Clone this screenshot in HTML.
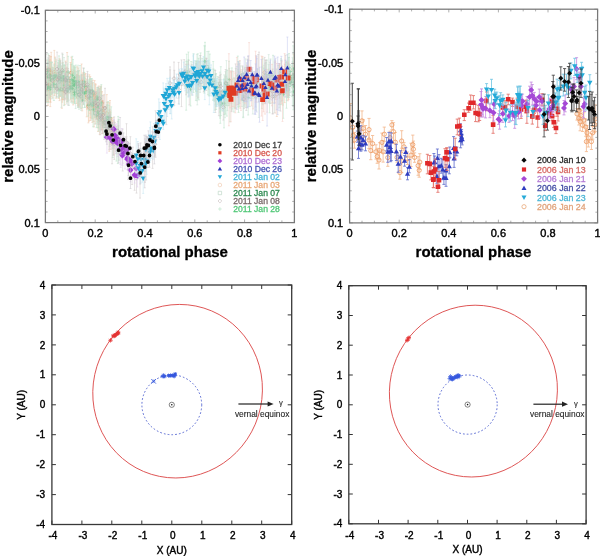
<!DOCTYPE html>
<html><head><meta charset="utf-8"><style>
html,body{margin:0;padding:0;background:#fff;}
svg{display:block;font-family:"Liberation Sans",sans-serif;filter:blur(0.35px);}
</style></head><body>
<svg width="600" height="556" viewBox="0 0 600 556">
<rect width="600" height="556" fill="#fff"/>
<defs><clipPath id="cTL"><rect x="45.4" y="10.3" width="249" height="212"/></clipPath><clipPath id="cTR"><rect x="349.6" y="9.2" width="248" height="213.7"/></clipPath></defs>
<g clip-path="url(#cTL)">
<path d="M77.1 66.8V86.1M76.1 66.8h2M76.1 86.1h2M86.7 79V116.8M85.7 79h2M85.7 116.8h2M51.7 62.2V94.4M50.7 62.2h2M50.7 94.4h2M48 76.5V101.5M47 76.5h2M47 101.5h2M56.2 75.4V98.3M55.2 75.4h2M55.2 98.3h2M62.2 73V102.2M61.2 73h2M61.2 102.2h2M81.9 75.8V94.9M80.9 75.8h2M80.9 94.9h2M64.7 76.3V104.7M63.7 76.3h2M63.7 104.7h2M67.4 68.6V100.1M66.4 68.6h2M66.4 100.1h2M73.4 75.6V98.3M72.4 75.6h2M72.4 98.3h2M45 64V103.7M44 64h2M44 103.7h2M73.2 73.7V104.9M72.2 73.7h2M72.2 104.9h2M51.2 52.3V87.8M50.2 52.3h2M50.2 87.8h2M62.5 66.6V94.1M61.5 66.6h2M61.5 94.1h2M84.7 74.2V101.1M83.7 74.2h2M83.7 101.1h2M90.7 89.1V117.5M89.7 89.1h2M89.7 117.5h2M113.9 124.4V144.4M112.9 124.4h2M112.9 144.4h2M73 81.5V98.7M72 81.5h2M72 98.7h2M60.1 62.6V96.3M59.1 62.6h2M59.1 96.3h2M50.2 71.3V102M49.2 71.3h2M49.2 102h2M71.4 57.1V89.3M70.4 57.1h2M70.4 89.3h2M106.5 105.1V139.8M105.5 105.1h2M105.5 139.8h2M62.7 62.5V99.9M61.7 62.5h2M61.7 99.9h2M112.5 128.1V145M111.5 128.1h2M111.5 145h2M47.7 69.8V94.2M46.7 69.8h2M46.7 94.2h2M103.5 102.7V124.4M102.5 102.7h2M102.5 124.4h2M49.9 59.7V99.2M48.9 59.7h2M48.9 99.2h2M64.9 74.8V94.8M63.9 74.8h2M63.9 94.8h2M76.6 76V103.5M75.6 76h2M75.6 103.5h2M54.3 50.4V91.5M53.3 50.4h2M53.3 91.5h2M94.1 90.6V109.9M93.1 90.6h2M93.1 109.9h2M109.6 119.9V125.9M108.6 119.9h2M108.6 125.9h2M79.2 75.5V94.9M78.2 75.5h2M78.2 94.9h2M83.8 85.9V95.6M82.8 85.9h2M82.8 95.6h2M101.3 104.8V129.6M100.3 104.8h2M100.3 129.6h2M106.8 94.6V130.5M105.8 94.6h2M105.8 130.5h2M89.4 74.7V105.8M88.4 74.7h2M88.4 105.8h2M90.4 94.6V120.5M89.4 94.6h2M89.4 120.5h2M97.2 89.1V110.5M96.2 89.1h2M96.2 110.5h2M98.3 101.3V127.7M97.3 101.3h2M97.3 127.7h2M94.6 80.6V107.7M93.6 80.6h2M93.6 107.7h2M45.8 60.4V92.2M44.8 60.4h2M44.8 92.2h2M109.3 112.2V131.8M108.3 112.2h2M108.3 131.8h2M92.3 83.5V122.4M91.3 83.5h2M91.3 122.4h2M107.5 102.4V131.8M106.5 102.4h2M106.5 131.8h2M80.2 86.9V101.3M79.2 86.9h2M79.2 101.3h2M64.7 68.5V98.8M63.7 68.5h2M63.7 98.8h2M74.4 71.1V91.1M73.4 71.1h2M73.4 91.1h2M114.7 122.5V148.9M113.7 122.5h2M113.7 148.9h2M47.9 70V86.3M46.9 70h2M46.9 86.3h2M46.4 69.9V101.5M45.4 69.9h2M45.4 101.5h2M61.9 66.8V95.1M60.9 66.8h2M60.9 95.1h2M89.7 83.8V99.6M88.7 83.8h2M88.7 99.6h2M59.2 65.8V89.8M58.2 65.8h2M58.2 89.8h2M95.7 91.8V123.9M94.7 91.8h2M94.7 123.9h2M82 74.8V92.6M81 74.8h2M81 92.6h2M109.3 116.8V151.4M108.3 116.8h2M108.3 151.4h2M77.2 71.4V84.8M76.2 71.4h2M76.2 84.8h2M107.4 123.1V130.9M106.4 123.1h2M106.4 130.9h2M59.5 72.1V84.4M58.5 72.1h2M58.5 84.4h2M60.1 82.3V96.4M59.1 82.3h2M59.1 96.4h2M101.1 86V123.9M100.1 86h2M100.1 123.9h2M50.9 56.5V87.7M49.9 56.5h2M49.9 87.7h2M47 66.8V90M46 66.8h2M46 90h2M68.8 73.1V93.4M67.8 73.1h2M67.8 93.4h2M96.4 100.9V118M95.4 100.9h2M95.4 118h2M112.4 120.3V148.1M111.4 120.3h2M111.4 148.1h2M96.7 91.2V111.3M95.7 91.2h2M95.7 111.3h2M67.1 52.5V89.7M66.1 52.5h2M66.1 89.7h2M105.4 113.6V136.6M104.4 113.6h2M104.4 136.6h2M83 73.1V98.9M82 73.1h2M82 98.9h2M81.6 64V98.8M80.6 64h2M80.6 98.8h2M94.1 94.7V126.9M93.1 94.7h2M93.1 126.9h2M110.6 112.8V144.7M109.6 112.8h2M109.6 144.7h2M102.9 110.6V129.2M101.9 110.6h2M101.9 129.2h2M88.9 86.1V109.2M87.9 86.1h2M87.9 109.2h2M58.8 64.2V98.3M57.8 64.2h2M57.8 98.3h2M89 89.6V121.1M88 89.6h2M88 121.1h2M62.8 65.5V99.5M61.8 65.5h2M61.8 99.5h2M74.4 70.3V94.6M73.4 70.3h2M73.4 94.6h2M90.3 76.4V101.7M89.3 76.4h2M89.3 101.7h2M61.5 73.1V85M60.5 73.1h2M60.5 85h2M67.4 70.9V98.4M66.4 70.9h2M66.4 98.4h2M54.5 63.8V95.5M53.5 63.8h2M53.5 95.5h2M104.1 94.7V124.3M103.1 94.7h2M103.1 124.3h2M93.7 91.8V121.5M92.7 91.8h2M92.7 121.5h2M113.8 120.9V154.9M112.8 120.9h2M112.8 154.9h2M93.7 91.1V115M92.7 91.1h2M92.7 115h2M84.2 74.3V96M83.2 74.3h2M83.2 96h2M59.5 85.8V91.2M58.5 85.8h2M58.5 91.2h2M49.4 72.2V96M48.4 72.2h2M48.4 96h2M78.2 68V91.2M77.2 68h2M77.2 91.2h2M94.8 95V117.6M93.8 95h2M93.8 117.6h2M73.8 70V97.7M72.8 70h2M72.8 97.7h2M108.4 119.4V134.9M107.4 119.4h2M107.4 134.9h2M73.7 66.8V90.4M72.7 66.8h2M72.7 90.4h2M63.3 77.8V99.1M62.3 77.8h2M62.3 99.1h2M73.8 84.7V102.2M72.8 84.7h2M72.8 102.2h2M99.3 88.2V117.4M98.3 88.2h2M98.3 117.4h2M78.3 78.1V106M77.3 78.1h2M77.3 106h2M61.5 77.7V99.6M60.5 77.7h2M60.5 99.6h2M85.4 73.5V101M84.4 73.5h2M84.4 101h2M94.8 103.3V107M93.8 103.3h2M93.8 107h2M97.5 92.7V121.7M96.5 92.7h2M96.5 121.7h2M71.7 69.3V101.5M70.7 69.3h2M70.7 101.5h2M81.1 81.7V108.6M80.1 81.7h2M80.1 108.6h2M102.5 103.8V133.6M101.5 103.8h2M101.5 133.6h2M111 118V149.3M110 118h2M110 149.3h2M88.4 90.3V122.9M87.4 90.3h2M87.4 122.9h2M87.4 76V108.3M86.4 76h2M86.4 108.3h2M65.1 72.2V88.8M64.1 72.2h2M64.1 88.8h2M48 66.9V105.4M47 66.9h2M47 105.4h2M98.1 98V131.5M97.1 98h2M97.1 131.5h2M109.3 102.8V134M108.3 102.8h2M108.3 134h2M82.2 87.9V110.9M81.2 87.9h2M81.2 110.9h2M103 100.7V124.7M102 100.7h2M102 124.7h2M59.5 74V100.6M58.5 74h2M58.5 100.6h2M92.4 82.5V110.2M91.4 82.5h2M91.4 110.2h2M100.2 88.3V111.8M99.2 88.3h2M99.2 111.8h2M61.9 68.9V108.3M60.9 68.9h2M60.9 108.3h2M70.5 62.5V100M69.5 62.5h2M69.5 100h2M90 88.7V110.4M89 88.7h2M89 110.4h2M110 118.5V139.7M109 118.5h2M109 139.7h2M75.2 71.4V93M74.2 71.4h2M74.2 93h2M51.1 67.4V84.3M50.1 67.4h2M50.1 84.3h2M79 70.4V107.4M78 70.4h2M78 107.4h2M50.3 67.8V106.6M49.3 67.8h2M49.3 106.6h2M60.1 60V89.9M59.1 60h2M59.1 89.9h2M91.4 91.6V118.6M90.4 91.6h2M90.4 118.6h2M110.4 111V140.2M109.4 111h2M109.4 140.2h2M50.6 70V102.2M49.6 70h2M49.6 102.2h2M66.2 71.5V93.8M65.2 71.5h2M65.2 93.8h2M50.8 56.8V93.1M49.8 56.8h2M49.8 93.1h2M55.1 57.1V89.4M54.1 57.1h2M54.1 89.4h2M95.4 83.7V105.3M94.4 83.7h2M94.4 105.3h2M76.1 78.1V96.6M75.1 78.1h2M75.1 96.6h2M111.4 122.5V143.6M110.4 122.5h2M110.4 143.6h2M70.8 64.6V94M69.8 64.6h2M69.8 94h2M101.6 91.5V112.5M100.6 91.5h2M100.6 112.5h2M98.9 103.2V122.8M97.9 103.2h2M97.9 122.8h2M83.6 72.5V91.5M82.6 72.5h2M82.6 91.5h2M49.5 60.9V79.2M48.5 60.9h2M48.5 79.2h2M97.3 96V119M96.3 96h2M96.3 119h2M98 95.7V116.8M97 95.7h2M97 116.8h2M82 82.1V101.2M81 82.1h2M81 101.2h2M92.7 80.1V108.8M91.7 80.1h2M91.7 108.8h2M110 100.5V138M109 100.5h2M109 138h2M102.2 112.9V125.8M101.2 112.9h2M101.2 125.8h2M82.2 81.9V93.6M81.2 81.9h2M81.2 93.6h2M55.4 76.9V80.5M54.4 76.9h2M54.4 80.5h2M59.5 58.7V87.8M58.5 58.7h2M58.5 87.8h2M66.9 68.7V102M65.9 68.7h2M65.9 102h2M49.4 55.5V83.9M48.4 55.5h2M48.4 83.9h2M52.7 67.1V98M51.7 67.1h2M51.7 98h2M87.2 81.6V109.3M86.2 81.6h2M86.2 109.3h2M98.8 86V123.4M97.8 86h2M97.8 123.4h2M63.5 83.2V97.3M62.5 83.2h2M62.5 97.3h2M112.9 117.7V144.3M111.9 117.7h2M111.9 144.3h2M101.9 91.9V123M100.9 91.9h2M100.9 123h2M115.3 125.7V144.6M114.3 125.7h2M114.3 144.6h2M71.4 78.1V91.3M70.4 78.1h2M70.4 91.3h2M56.1 59.8V93.8M55.1 59.8h2M55.1 93.8h2M90.2 89.6V113.7M89.2 89.6h2M89.2 113.7h2M99.7 104.7V134.3M98.7 104.7h2M98.7 134.3h2M50.9 63V96.4M49.9 63h2M49.9 96.4h2M78.3 80.8V104.6M77.3 80.8h2M77.3 104.6h2M101 87.3V121.6M100 87.3h2M100 121.6h2M59.8 63.4V86.8M58.8 63.4h2M58.8 86.8h2M67.1 67.3V94.9M66.1 67.3h2M66.1 94.9h2M95.8 84.7V116.6M94.8 84.7h2M94.8 116.6h2M77.8 84.4V105.8M76.8 84.4h2M76.8 105.8h2M71.8 71.7V92M70.8 71.7h2M70.8 92h2M45.7 77.8V102.1M44.7 77.8h2M44.7 102.1h2M65.6 61.1V91.7M64.6 61.1h2M64.6 91.7h2M72.8 72.5V92.9M71.8 72.5h2M71.8 92.9h2M272.5 77.9V102.7M271.5 77.9h2M271.5 102.7h2M288.5 70.6V99.6M287.5 70.6h2M287.5 99.6h2M284.7 64.2V102.6M283.7 64.2h2M283.7 102.6h2M264.9 71.7V101.2M263.9 71.7h2M263.9 101.2h2M264.3 78.6V103.3M263.3 78.6h2M263.3 103.3h2M286.5 74V93.8M285.5 74h2M285.5 93.8h2M262.5 56.6V97.3M261.5 56.6h2M261.5 97.3h2M283.1 68.6V93.9M282.1 68.6h2M282.1 93.9h2M282.8 70.3V105.1M281.8 70.3h2M281.8 105.1h2M288.4 64.1V92.4M287.4 64.1h2M287.4 92.4h2M279.5 63.6V98.1M278.5 63.6h2M278.5 98.1h2M293.6 54.5V81.4M292.6 54.5h2M292.6 81.4h2M292.2 66.6V87.6M291.2 66.6h2M291.2 87.6h2M280.4 68.7V91.2M279.4 68.7h2M279.4 91.2h2M276.8 77.8V116.5M275.8 77.8h2M275.8 116.5h2M279.4 65V90M278.4 65h2M278.4 90h2" stroke="#f0c9ae" stroke-width="0.55" fill="none" opacity="1.0"/>
<path d="M75.4 76.4a1.7 1.7 0 1 0 3.4 0a1.7 1.7 0 1 0 -3.4 0M85 97.3a1.7 1.7 0 1 0 3.4 0a1.7 1.7 0 1 0 -3.4 0M50 78.7a1.7 1.7 0 1 0 3.4 0a1.7 1.7 0 1 0 -3.4 0M46.3 89.1a1.7 1.7 0 1 0 3.4 0a1.7 1.7 0 1 0 -3.4 0M54.5 86.5a1.7 1.7 0 1 0 3.4 0a1.7 1.7 0 1 0 -3.4 0M60.5 86.5a1.7 1.7 0 1 0 3.4 0a1.7 1.7 0 1 0 -3.4 0M80.2 85.7a1.7 1.7 0 1 0 3.4 0a1.7 1.7 0 1 0 -3.4 0M63 90.8a1.7 1.7 0 1 0 3.4 0a1.7 1.7 0 1 0 -3.4 0M65.7 82.1a1.7 1.7 0 1 0 3.4 0a1.7 1.7 0 1 0 -3.4 0M71.7 87.2a1.7 1.7 0 1 0 3.4 0a1.7 1.7 0 1 0 -3.4 0M43.3 82a1.7 1.7 0 1 0 3.4 0a1.7 1.7 0 1 0 -3.4 0M71.5 90.9a1.7 1.7 0 1 0 3.4 0a1.7 1.7 0 1 0 -3.4 0M49.5 72.4a1.7 1.7 0 1 0 3.4 0a1.7 1.7 0 1 0 -3.4 0M60.8 82.1a1.7 1.7 0 1 0 3.4 0a1.7 1.7 0 1 0 -3.4 0M83 89.3a1.7 1.7 0 1 0 3.4 0a1.7 1.7 0 1 0 -3.4 0M89 103.1a1.7 1.7 0 1 0 3.4 0a1.7 1.7 0 1 0 -3.4 0M112.2 135.7a1.7 1.7 0 1 0 3.4 0a1.7 1.7 0 1 0 -3.4 0M71.3 88.6a1.7 1.7 0 1 0 3.4 0a1.7 1.7 0 1 0 -3.4 0M58.4 79.5a1.7 1.7 0 1 0 3.4 0a1.7 1.7 0 1 0 -3.4 0M48.5 85.5a1.7 1.7 0 1 0 3.4 0a1.7 1.7 0 1 0 -3.4 0M69.7 72.9a1.7 1.7 0 1 0 3.4 0a1.7 1.7 0 1 0 -3.4 0M104.8 122.7a1.7 1.7 0 1 0 3.4 0a1.7 1.7 0 1 0 -3.4 0M61 83.9a1.7 1.7 0 1 0 3.4 0a1.7 1.7 0 1 0 -3.4 0M110.8 137.2a1.7 1.7 0 1 0 3.4 0a1.7 1.7 0 1 0 -3.4 0M46 83.1a1.7 1.7 0 1 0 3.4 0a1.7 1.7 0 1 0 -3.4 0M101.8 112.3a1.7 1.7 0 1 0 3.4 0a1.7 1.7 0 1 0 -3.4 0M48.2 80.3a1.7 1.7 0 1 0 3.4 0a1.7 1.7 0 1 0 -3.4 0M63.2 84.2a1.7 1.7 0 1 0 3.4 0a1.7 1.7 0 1 0 -3.4 0M74.9 89.2a1.7 1.7 0 1 0 3.4 0a1.7 1.7 0 1 0 -3.4 0M52.6 72.1a1.7 1.7 0 1 0 3.4 0a1.7 1.7 0 1 0 -3.4 0M92.4 100.3a1.7 1.7 0 1 0 3.4 0a1.7 1.7 0 1 0 -3.4 0M107.9 122.5a1.7 1.7 0 1 0 3.4 0a1.7 1.7 0 1 0 -3.4 0M77.5 87a1.7 1.7 0 1 0 3.4 0a1.7 1.7 0 1 0 -3.4 0M82.1 90.8a1.7 1.7 0 1 0 3.4 0a1.7 1.7 0 1 0 -3.4 0M99.6 116.7a1.7 1.7 0 1 0 3.4 0a1.7 1.7 0 1 0 -3.4 0M105.1 113.5a1.7 1.7 0 1 0 3.4 0a1.7 1.7 0 1 0 -3.4 0M87.7 92a1.7 1.7 0 1 0 3.4 0a1.7 1.7 0 1 0 -3.4 0M88.7 108.4a1.7 1.7 0 1 0 3.4 0a1.7 1.7 0 1 0 -3.4 0M95.5 101.4a1.7 1.7 0 1 0 3.4 0a1.7 1.7 0 1 0 -3.4 0M96.6 115.2a1.7 1.7 0 1 0 3.4 0a1.7 1.7 0 1 0 -3.4 0M92.9 95.9a1.7 1.7 0 1 0 3.4 0a1.7 1.7 0 1 0 -3.4 0M44.1 76.4a1.7 1.7 0 1 0 3.4 0a1.7 1.7 0 1 0 -3.4 0M107.6 123.1a1.7 1.7 0 1 0 3.4 0a1.7 1.7 0 1 0 -3.4 0M90.6 102.6a1.7 1.7 0 1 0 3.4 0a1.7 1.7 0 1 0 -3.4 0M105.8 117.7a1.7 1.7 0 1 0 3.4 0a1.7 1.7 0 1 0 -3.4 0M78.5 93.8a1.7 1.7 0 1 0 3.4 0a1.7 1.7 0 1 0 -3.4 0M63 83.9a1.7 1.7 0 1 0 3.4 0a1.7 1.7 0 1 0 -3.4 0M72.7 80.1a1.7 1.7 0 1 0 3.4 0a1.7 1.7 0 1 0 -3.4 0M113 133.5a1.7 1.7 0 1 0 3.4 0a1.7 1.7 0 1 0 -3.4 0M46.2 77.4a1.7 1.7 0 1 0 3.4 0a1.7 1.7 0 1 0 -3.4 0M44.7 83.1a1.7 1.7 0 1 0 3.4 0a1.7 1.7 0 1 0 -3.4 0M60.2 81.5a1.7 1.7 0 1 0 3.4 0a1.7 1.7 0 1 0 -3.4 0M88 92.1a1.7 1.7 0 1 0 3.4 0a1.7 1.7 0 1 0 -3.4 0M57.5 76.5a1.7 1.7 0 1 0 3.4 0a1.7 1.7 0 1 0 -3.4 0M94 106.7a1.7 1.7 0 1 0 3.4 0a1.7 1.7 0 1 0 -3.4 0M80.3 83a1.7 1.7 0 1 0 3.4 0a1.7 1.7 0 1 0 -3.4 0M107.6 136.2a1.7 1.7 0 1 0 3.4 0a1.7 1.7 0 1 0 -3.4 0M75.5 77.8a1.7 1.7 0 1 0 3.4 0a1.7 1.7 0 1 0 -3.4 0M105.7 126.8a1.7 1.7 0 1 0 3.4 0a1.7 1.7 0 1 0 -3.4 0M57.8 78.2a1.7 1.7 0 1 0 3.4 0a1.7 1.7 0 1 0 -3.4 0M58.4 89.9a1.7 1.7 0 1 0 3.4 0a1.7 1.7 0 1 0 -3.4 0M99.4 106.8a1.7 1.7 0 1 0 3.4 0a1.7 1.7 0 1 0 -3.4 0M49.2 72.9a1.7 1.7 0 1 0 3.4 0a1.7 1.7 0 1 0 -3.4 0M45.3 79.9a1.7 1.7 0 1 0 3.4 0a1.7 1.7 0 1 0 -3.4 0M67.1 82.5a1.7 1.7 0 1 0 3.4 0a1.7 1.7 0 1 0 -3.4 0M94.7 110.2a1.7 1.7 0 1 0 3.4 0a1.7 1.7 0 1 0 -3.4 0M110.7 134.9a1.7 1.7 0 1 0 3.4 0a1.7 1.7 0 1 0 -3.4 0M95 101.8a1.7 1.7 0 1 0 3.4 0a1.7 1.7 0 1 0 -3.4 0M65.4 73.6a1.7 1.7 0 1 0 3.4 0a1.7 1.7 0 1 0 -3.4 0M103.7 126a1.7 1.7 0 1 0 3.4 0a1.7 1.7 0 1 0 -3.4 0M81.3 83.6a1.7 1.7 0 1 0 3.4 0a1.7 1.7 0 1 0 -3.4 0M79.9 81.6a1.7 1.7 0 1 0 3.4 0a1.7 1.7 0 1 0 -3.4 0M92.4 109.1a1.7 1.7 0 1 0 3.4 0a1.7 1.7 0 1 0 -3.4 0M108.9 127.6a1.7 1.7 0 1 0 3.4 0a1.7 1.7 0 1 0 -3.4 0M101.2 120.2a1.7 1.7 0 1 0 3.4 0a1.7 1.7 0 1 0 -3.4 0M87.2 99.5a1.7 1.7 0 1 0 3.4 0a1.7 1.7 0 1 0 -3.4 0M57.1 81.1a1.7 1.7 0 1 0 3.4 0a1.7 1.7 0 1 0 -3.4 0M87.3 104a1.7 1.7 0 1 0 3.4 0a1.7 1.7 0 1 0 -3.4 0M61.1 82.7a1.7 1.7 0 1 0 3.4 0a1.7 1.7 0 1 0 -3.4 0M72.7 81.4a1.7 1.7 0 1 0 3.4 0a1.7 1.7 0 1 0 -3.4 0M88.6 88.5a1.7 1.7 0 1 0 3.4 0a1.7 1.7 0 1 0 -3.4 0M59.8 79.7a1.7 1.7 0 1 0 3.4 0a1.7 1.7 0 1 0 -3.4 0M65.7 84.9a1.7 1.7 0 1 0 3.4 0a1.7 1.7 0 1 0 -3.4 0M52.8 80.2a1.7 1.7 0 1 0 3.4 0a1.7 1.7 0 1 0 -3.4 0M102.4 108.6a1.7 1.7 0 1 0 3.4 0a1.7 1.7 0 1 0 -3.4 0M92 106a1.7 1.7 0 1 0 3.4 0a1.7 1.7 0 1 0 -3.4 0M112.1 138.8a1.7 1.7 0 1 0 3.4 0a1.7 1.7 0 1 0 -3.4 0M92 103.2a1.7 1.7 0 1 0 3.4 0a1.7 1.7 0 1 0 -3.4 0M82.5 85.1a1.7 1.7 0 1 0 3.4 0a1.7 1.7 0 1 0 -3.4 0M57.8 89a1.7 1.7 0 1 0 3.4 0a1.7 1.7 0 1 0 -3.4 0M47.7 85.1a1.7 1.7 0 1 0 3.4 0a1.7 1.7 0 1 0 -3.4 0M76.5 81.1a1.7 1.7 0 1 0 3.4 0a1.7 1.7 0 1 0 -3.4 0M93.1 105.7a1.7 1.7 0 1 0 3.4 0a1.7 1.7 0 1 0 -3.4 0M72.1 85.4a1.7 1.7 0 1 0 3.4 0a1.7 1.7 0 1 0 -3.4 0M106.7 127.5a1.7 1.7 0 1 0 3.4 0a1.7 1.7 0 1 0 -3.4 0M72 79a1.7 1.7 0 1 0 3.4 0a1.7 1.7 0 1 0 -3.4 0M61.6 88.4a1.7 1.7 0 1 0 3.4 0a1.7 1.7 0 1 0 -3.4 0M72.1 93.3a1.7 1.7 0 1 0 3.4 0a1.7 1.7 0 1 0 -3.4 0M97.6 101.9a1.7 1.7 0 1 0 3.4 0a1.7 1.7 0 1 0 -3.4 0M76.6 92.1a1.7 1.7 0 1 0 3.4 0a1.7 1.7 0 1 0 -3.4 0M59.8 88a1.7 1.7 0 1 0 3.4 0a1.7 1.7 0 1 0 -3.4 0M83.7 88.1a1.7 1.7 0 1 0 3.4 0a1.7 1.7 0 1 0 -3.4 0M93.1 104.9a1.7 1.7 0 1 0 3.4 0a1.7 1.7 0 1 0 -3.4 0M95.8 106.7a1.7 1.7 0 1 0 3.4 0a1.7 1.7 0 1 0 -3.4 0M70 86.4a1.7 1.7 0 1 0 3.4 0a1.7 1.7 0 1 0 -3.4 0M79.4 96a1.7 1.7 0 1 0 3.4 0a1.7 1.7 0 1 0 -3.4 0M100.8 120.9a1.7 1.7 0 1 0 3.4 0a1.7 1.7 0 1 0 -3.4 0M109.3 132.5a1.7 1.7 0 1 0 3.4 0a1.7 1.7 0 1 0 -3.4 0M86.7 106.3a1.7 1.7 0 1 0 3.4 0a1.7 1.7 0 1 0 -3.4 0M85.7 92.4a1.7 1.7 0 1 0 3.4 0a1.7 1.7 0 1 0 -3.4 0M63.4 80.1a1.7 1.7 0 1 0 3.4 0a1.7 1.7 0 1 0 -3.4 0M46.3 84.3a1.7 1.7 0 1 0 3.4 0a1.7 1.7 0 1 0 -3.4 0M96.4 117.7a1.7 1.7 0 1 0 3.4 0a1.7 1.7 0 1 0 -3.4 0M107.6 120.6a1.7 1.7 0 1 0 3.4 0a1.7 1.7 0 1 0 -3.4 0M80.5 98.3a1.7 1.7 0 1 0 3.4 0a1.7 1.7 0 1 0 -3.4 0M101.3 113.1a1.7 1.7 0 1 0 3.4 0a1.7 1.7 0 1 0 -3.4 0M57.8 86.3a1.7 1.7 0 1 0 3.4 0a1.7 1.7 0 1 0 -3.4 0M90.7 96.8a1.7 1.7 0 1 0 3.4 0a1.7 1.7 0 1 0 -3.4 0M98.5 100.5a1.7 1.7 0 1 0 3.4 0a1.7 1.7 0 1 0 -3.4 0M60.2 89.2a1.7 1.7 0 1 0 3.4 0a1.7 1.7 0 1 0 -3.4 0M68.8 81.2a1.7 1.7 0 1 0 3.4 0a1.7 1.7 0 1 0 -3.4 0M88.3 98a1.7 1.7 0 1 0 3.4 0a1.7 1.7 0 1 0 -3.4 0M108.3 128.6a1.7 1.7 0 1 0 3.4 0a1.7 1.7 0 1 0 -3.4 0M73.5 83.3a1.7 1.7 0 1 0 3.4 0a1.7 1.7 0 1 0 -3.4 0M49.4 76.3a1.7 1.7 0 1 0 3.4 0a1.7 1.7 0 1 0 -3.4 0M77.3 88.6a1.7 1.7 0 1 0 3.4 0a1.7 1.7 0 1 0 -3.4 0M48.6 86.7a1.7 1.7 0 1 0 3.4 0a1.7 1.7 0 1 0 -3.4 0M58.4 76.2a1.7 1.7 0 1 0 3.4 0a1.7 1.7 0 1 0 -3.4 0M89.7 104.6a1.7 1.7 0 1 0 3.4 0a1.7 1.7 0 1 0 -3.4 0M108.7 123.3a1.7 1.7 0 1 0 3.4 0a1.7 1.7 0 1 0 -3.4 0M48.9 85.5a1.7 1.7 0 1 0 3.4 0a1.7 1.7 0 1 0 -3.4 0M64.5 81.6a1.7 1.7 0 1 0 3.4 0a1.7 1.7 0 1 0 -3.4 0M49.1 76.5a1.7 1.7 0 1 0 3.4 0a1.7 1.7 0 1 0 -3.4 0M53.4 74.1a1.7 1.7 0 1 0 3.4 0a1.7 1.7 0 1 0 -3.4 0M93.7 94.5a1.7 1.7 0 1 0 3.4 0a1.7 1.7 0 1 0 -3.4 0M74.4 87.2a1.7 1.7 0 1 0 3.4 0a1.7 1.7 0 1 0 -3.4 0M109.7 133a1.7 1.7 0 1 0 3.4 0a1.7 1.7 0 1 0 -3.4 0M69.1 78.2a1.7 1.7 0 1 0 3.4 0a1.7 1.7 0 1 0 -3.4 0M99.9 102.9a1.7 1.7 0 1 0 3.4 0a1.7 1.7 0 1 0 -3.4 0M97.2 111.9a1.7 1.7 0 1 0 3.4 0a1.7 1.7 0 1 0 -3.4 0M81.9 81.7a1.7 1.7 0 1 0 3.4 0a1.7 1.7 0 1 0 -3.4 0M47.8 70a1.7 1.7 0 1 0 3.4 0a1.7 1.7 0 1 0 -3.4 0M95.6 108.7a1.7 1.7 0 1 0 3.4 0a1.7 1.7 0 1 0 -3.4 0M96.3 105.1a1.7 1.7 0 1 0 3.4 0a1.7 1.7 0 1 0 -3.4 0M80.3 90.5a1.7 1.7 0 1 0 3.4 0a1.7 1.7 0 1 0 -3.4 0M91 94.5a1.7 1.7 0 1 0 3.4 0a1.7 1.7 0 1 0 -3.4 0M108.3 118.7a1.7 1.7 0 1 0 3.4 0a1.7 1.7 0 1 0 -3.4 0M100.5 119.7a1.7 1.7 0 1 0 3.4 0a1.7 1.7 0 1 0 -3.4 0M80.5 87.7a1.7 1.7 0 1 0 3.4 0a1.7 1.7 0 1 0 -3.4 0M53.7 78.8a1.7 1.7 0 1 0 3.4 0a1.7 1.7 0 1 0 -3.4 0M57.8 75.9a1.7 1.7 0 1 0 3.4 0a1.7 1.7 0 1 0 -3.4 0M65.2 87.3a1.7 1.7 0 1 0 3.4 0a1.7 1.7 0 1 0 -3.4 0M47.7 72.3a1.7 1.7 0 1 0 3.4 0a1.7 1.7 0 1 0 -3.4 0M51 81.1a1.7 1.7 0 1 0 3.4 0a1.7 1.7 0 1 0 -3.4 0M85.5 95.8a1.7 1.7 0 1 0 3.4 0a1.7 1.7 0 1 0 -3.4 0M97.1 105.9a1.7 1.7 0 1 0 3.4 0a1.7 1.7 0 1 0 -3.4 0M61.8 90a1.7 1.7 0 1 0 3.4 0a1.7 1.7 0 1 0 -3.4 0M111.2 128.6a1.7 1.7 0 1 0 3.4 0a1.7 1.7 0 1 0 -3.4 0M100.2 108.3a1.7 1.7 0 1 0 3.4 0a1.7 1.7 0 1 0 -3.4 0M113.6 134.2a1.7 1.7 0 1 0 3.4 0a1.7 1.7 0 1 0 -3.4 0M69.7 85.3a1.7 1.7 0 1 0 3.4 0a1.7 1.7 0 1 0 -3.4 0M54.4 77.9a1.7 1.7 0 1 0 3.4 0a1.7 1.7 0 1 0 -3.4 0M88.5 102.6a1.7 1.7 0 1 0 3.4 0a1.7 1.7 0 1 0 -3.4 0M98 119.5a1.7 1.7 0 1 0 3.4 0a1.7 1.7 0 1 0 -3.4 0M49.2 78.3a1.7 1.7 0 1 0 3.4 0a1.7 1.7 0 1 0 -3.4 0M76.6 94a1.7 1.7 0 1 0 3.4 0a1.7 1.7 0 1 0 -3.4 0M99.3 101.9a1.7 1.7 0 1 0 3.4 0a1.7 1.7 0 1 0 -3.4 0M58.1 73.5a1.7 1.7 0 1 0 3.4 0a1.7 1.7 0 1 0 -3.4 0M65.4 80.6a1.7 1.7 0 1 0 3.4 0a1.7 1.7 0 1 0 -3.4 0M94.1 99.6a1.7 1.7 0 1 0 3.4 0a1.7 1.7 0 1 0 -3.4 0M76.1 96.6a1.7 1.7 0 1 0 3.4 0a1.7 1.7 0 1 0 -3.4 0M70.1 82.1a1.7 1.7 0 1 0 3.4 0a1.7 1.7 0 1 0 -3.4 0M44 88.9a1.7 1.7 0 1 0 3.4 0a1.7 1.7 0 1 0 -3.4 0M63.9 76.2a1.7 1.7 0 1 0 3.4 0a1.7 1.7 0 1 0 -3.4 0M71.1 81.6a1.7 1.7 0 1 0 3.4 0a1.7 1.7 0 1 0 -3.4 0M270.8 91.3a1.7 1.7 0 1 0 3.4 0a1.7 1.7 0 1 0 -3.4 0M286.8 83.3a1.7 1.7 0 1 0 3.4 0a1.7 1.7 0 1 0 -3.4 0M283 84.3a1.7 1.7 0 1 0 3.4 0a1.7 1.7 0 1 0 -3.4 0M263.2 85.5a1.7 1.7 0 1 0 3.4 0a1.7 1.7 0 1 0 -3.4 0M262.6 90.6a1.7 1.7 0 1 0 3.4 0a1.7 1.7 0 1 0 -3.4 0M284.8 83.7a1.7 1.7 0 1 0 3.4 0a1.7 1.7 0 1 0 -3.4 0M260.8 77.6a1.7 1.7 0 1 0 3.4 0a1.7 1.7 0 1 0 -3.4 0M281.4 81.2a1.7 1.7 0 1 0 3.4 0a1.7 1.7 0 1 0 -3.4 0M281.1 86.8a1.7 1.7 0 1 0 3.4 0a1.7 1.7 0 1 0 -3.4 0M286.7 77.9a1.7 1.7 0 1 0 3.4 0a1.7 1.7 0 1 0 -3.4 0M277.8 78.8a1.7 1.7 0 1 0 3.4 0a1.7 1.7 0 1 0 -3.4 0M291.9 69.7a1.7 1.7 0 1 0 3.4 0a1.7 1.7 0 1 0 -3.4 0M290.5 76.7a1.7 1.7 0 1 0 3.4 0a1.7 1.7 0 1 0 -3.4 0M278.7 81.1a1.7 1.7 0 1 0 3.4 0a1.7 1.7 0 1 0 -3.4 0M275.1 94.2a1.7 1.7 0 1 0 3.4 0a1.7 1.7 0 1 0 -3.4 0M277.7 75.9a1.7 1.7 0 1 0 3.4 0a1.7 1.7 0 1 0 -3.4 0" stroke="#e2a074" stroke-width="0.7" fill="none" opacity="1.0"/>
<path d="M119.4 137.9V153.8M118.4 137.9h2M118.4 153.8h2M66.6 73V97.3M65.6 73h2M65.6 97.3h2M58.9 67.7V88.8M57.9 67.7h2M57.9 88.8h2M119 138.7V160.2M118 138.7h2M118 160.2h2M100.3 86.5V118.6M99.3 86.5h2M99.3 118.6h2M60 64.2V90.8M59 64.2h2M59 90.8h2M58 62.6V87.4M57 62.6h2M57 87.4h2M93.1 97.4V126.8M92.1 97.4h2M92.1 126.8h2M90 78V107.3M89 78h2M89 107.3h2M101.9 103.3V122.8M100.9 103.3h2M100.9 122.8h2M109.1 105.3V138.8M108.1 105.3h2M108.1 138.8h2M84.4 72.3V98.1M83.4 72.3h2M83.4 98.1h2M49.1 72.5V82.2M48.1 72.5h2M48.1 82.2h2M101.4 95V125.3M100.4 95h2M100.4 125.3h2M78.5 71V95.5M77.5 71h2M77.5 95.5h2M84.5 77.1V107.5M83.5 77.1h2M83.5 107.5h2M50.1 81.3V97.8M49.1 81.3h2M49.1 97.8h2M76.6 75.9V97.9M75.6 75.9h2M75.6 97.9h2M112.8 125.6V157.5M111.8 125.6h2M111.8 157.5h2M116.3 129.8V153.9M115.3 129.8h2M115.3 153.9h2M49.7 79.2V95.3M48.7 79.2h2M48.7 95.3h2M88.9 82.8V110.5M87.9 82.8h2M87.9 110.5h2M82.4 91.8V107.8M81.4 91.8h2M81.4 107.8h2M67.2 83.4V101.6M66.2 83.4h2M66.2 101.6h2M71.6 64.1V95.7M70.6 64.1h2M70.6 95.7h2M60.2 64.9V86.7M59.2 64.9h2M59.2 86.7h2M53 67.7V89.8M52 67.7h2M52 89.8h2M98.5 93.1V131M97.5 93.1h2M97.5 131h2M50.9 62.4V94.6M49.9 62.4h2M49.9 94.6h2M58.6 60.3V97.9M57.6 60.3h2M57.6 97.9h2M94.7 100.6V117.8M93.7 100.6h2M93.7 117.8h2M114.5 122.2V141.5M113.5 122.2h2M113.5 141.5h2M118.7 119.5V146.6M117.7 119.5h2M117.7 146.6h2M90 79.2V110.4M89 79.2h2M89 110.4h2M66.4 72.3V91.6M65.4 72.3h2M65.4 91.6h2M59 85.1V95.6M58 85.1h2M58 95.6h2M101.3 84.6V118.7M100.3 84.6h2M100.3 118.7h2M86.7 80.9V102.7M85.7 80.9h2M85.7 102.7h2M83.8 68.2V94.7M82.8 68.2h2M82.8 94.7h2M116.4 126.4V161.1M115.4 126.4h2M115.4 161.1h2M62.7 54.4V89M61.7 54.4h2M61.7 89h2M62.7 63V89.8M61.7 63h2M61.7 89.8h2M47.7 62.4V82.8M46.7 62.4h2M46.7 82.8h2M58.5 66.9V93.8M57.5 66.9h2M57.5 93.8h2M78.1 71V107.2M77.1 71h2M77.1 107.2h2M87.7 76.3V95.8M86.7 76.3h2M86.7 95.8h2M68.3 71.7V100.3M67.3 71.7h2M67.3 100.3h2M64.9 65.3V89.5M63.9 65.3h2M63.9 89.5h2M64.1 64.8V105.6M63.1 64.8h2M63.1 105.6h2M49.6 61.6V92.7M48.6 61.6h2M48.6 92.7h2M48.2 53.9V81.5M47.2 53.9h2M47.2 81.5h2M79.1 76.8V101.2M78.1 76.8h2M78.1 101.2h2M55.6 61.4V88.6M54.6 61.4h2M54.6 88.6h2M47.6 74.5V100M46.6 74.5h2M46.6 100h2M64 65.1V91.1M63 65.1h2M63 91.1h2M72.3 56.3V90.2M71.3 56.3h2M71.3 90.2h2M75.2 72.9V96.8M74.2 72.9h2M74.2 96.8h2M109.8 109.1V125.6M108.8 109.1h2M108.8 125.6h2M108.2 101.6V134M107.2 101.6h2M107.2 134h2M58.8 66V87.7M57.8 66h2M57.8 87.7h2M80.1 65.5V104.2M79.1 65.5h2M79.1 104.2h2M109.7 114.5V146.5M108.7 114.5h2M108.7 146.5h2M72.2 71.1V95.6M71.2 71.1h2M71.2 95.6h2M74.5 83.3V101.9M73.5 83.3h2M73.5 101.9h2M56.5 71.8V97.1M55.5 71.8h2M55.5 97.1h2M113 124.6V148.6M112 124.6h2M112 148.6h2M111.2 106.8V140.1M110.2 106.8h2M110.2 140.1h2M74.5 72.7V99.5M73.5 72.7h2M73.5 99.5h2M47.4 59.8V91.4M46.4 59.8h2M46.4 91.4h2M98 87.6V122.6M97 87.6h2M97 122.6h2M60.4 60.9V95.8M59.4 60.9h2M59.4 95.8h2M109.9 112.7V142.5M108.9 112.7h2M108.9 142.5h2M48.1 72.6V102.5M47.1 72.6h2M47.1 102.5h2M118.2 116.4V153.8M117.2 116.4h2M117.2 153.8h2M96.7 94.2V103.1M95.7 94.2h2M95.7 103.1h2M92.4 91.2V118.4M91.4 91.2h2M91.4 118.4h2M73.8 65.6V96M72.8 65.6h2M72.8 96h2M75.2 67.6V93.8M74.2 67.6h2M74.2 93.8h2M52 62.1V93.4M51 62.1h2M51 93.4h2M97.6 90.2V109.5M96.6 90.2h2M96.6 109.5h2M72.3 76.6V103.1M71.3 76.6h2M71.3 103.1h2M88.9 79.8V103.2M87.9 79.8h2M87.9 103.2h2M71 79.3V98.5M70 79.3h2M70 98.5h2M59 55.9V85.8M58 55.9h2M58 85.8h2M88.2 93.9V116.1M87.2 93.9h2M87.2 116.1h2M75.8 65.1V98.5M74.8 65.1h2M74.8 98.5h2M73.6 74.9V97.9M72.6 74.9h2M72.6 97.9h2M68.1 56.3V87.9M67.1 56.3h2M67.1 87.9h2M62.1 70.4V89.3M61.1 70.4h2M61.1 89.3h2M74.5 66.4V103.2M73.5 66.4h2M73.5 103.2h2M91.8 78.5V100.1M90.8 78.5h2M90.8 100.1h2M71 74.5V97.8M70 74.5h2M70 97.8h2M96.5 105.9V127.6M95.5 105.9h2M95.5 127.6h2M81.8 74.4V97.6M80.8 74.4h2M80.8 97.6h2M85 78.5V107.3M84 78.5h2M84 107.3h2M83.5 81.3V104.7M82.5 81.3h2M82.5 104.7h2M97.9 94.4V127.7M96.9 94.4h2M96.9 127.7h2M57.2 81.5V93.5M56.2 81.5h2M56.2 93.5h2M83.1 82.7V100.9M82.1 82.7h2M82.1 100.9h2M98.7 88.2V124.5M97.7 88.2h2M97.7 124.5h2M107.1 105V129.1M106.1 105h2M106.1 129.1h2M107.3 113.2V135.5M106.3 113.2h2M106.3 135.5h2M62.3 66.8V96.8M61.3 66.8h2M61.3 96.8h2M117.8 128.2V163.6M116.8 128.2h2M116.8 163.6h2M74.8 88.1V103.6M73.8 88.1h2M73.8 103.6h2M53.9 68.8V100.5M52.9 68.8h2M52.9 100.5h2M54 64.9V92.7M53 64.9h2M53 92.7h2M73 59.5V96.8M72 59.5h2M72 96.8h2M74.4 67.7V85.7M73.4 67.7h2M73.4 85.7h2M97.1 87.6V106.5M96.1 87.6h2M96.1 106.5h2M196.7 65.1V91.7M195.7 65.1h2M195.7 91.7h2M220.3 91.3V123.3M219.3 91.3h2M219.3 123.3h2M214.9 70V110.1M213.9 70h2M213.9 110.1h2M190.6 70.6V106M189.6 70.6h2M189.6 106h2M204.9 45.9V81.9M203.9 45.9h2M203.9 81.9h2M237.8 56.1V92.9M236.8 56.1h2M236.8 92.9h2M245 71.7V92.9M244 71.7h2M244 92.9h2M279.2 72.8V107.9M278.2 72.8h2M278.2 107.9h2M204.2 63.9V91.6M203.2 63.9h2M203.2 91.6h2M224.1 83.9V105.1M223.1 83.9h2M223.1 105.1h2M207.9 61V94.7M206.9 61h2M206.9 94.7h2M271.4 71.2V95.9M270.4 71.2h2M270.4 95.9h2M268.7 69.1V102.9M267.7 69.1h2M267.7 102.9h2M261.9 66.9V108.4M260.9 66.9h2M260.9 108.4h2M209.8 54.1V95.9M208.8 54.1h2M208.8 95.9h2M224.8 79.2V105M223.8 79.2h2M223.8 105h2M220.1 81.5V118.2M219.1 81.5h2M219.1 118.2h2M266 62.7V86.4M265 62.7h2M265 86.4h2M200.6 52.9V89.5M199.6 52.9h2M199.6 89.5h2M229 61.2V105.7M228 61.2h2M228 105.7h2M281 58.7V104.6M280 58.7h2M280 104.6h2M231.9 79V110M230.9 79h2M230.9 110h2M204.4 45.8V93.2M203.4 45.8h2M203.4 93.2h2M205 42.3V85.3M204 42.3h2M204 85.3h2M226.2 76.2V105.4M225.2 76.2h2M225.2 105.4h2M278.3 65.5V87.4M277.3 65.5h2M277.3 87.4h2M276.3 69V91.2M275.3 69h2M275.3 91.2h2M226.9 70.3V116.1M225.9 70.3h2M225.9 116.1h2M188.5 59.6V84.7M187.5 59.6h2M187.5 84.7h2M286.5 61V108.2M285.5 61h2M285.5 108.2h2M219.1 92.2V96.4M218.1 92.2h2M218.1 96.4h2M198.8 68.2V99.9M197.8 68.2h2M197.8 99.9h2M255.8 83.9V110.3M254.8 83.9h2M254.8 110.3h2M293.3 70.1V109.8M292.3 70.1h2M292.3 109.8h2M273 55.3V91.2M272 55.3h2M272 91.2h2M215.5 74V104.9M214.5 74h2M214.5 104.9h2M238.5 61.7V112.4M237.5 61.7h2M237.5 112.4h2M244.9 87.2V107.1M243.9 87.2h2M243.9 107.1h2M195.9 61.5V100.4M194.9 61.5h2M194.9 100.4h2M197.8 53.8V98.7M196.8 53.8h2M196.8 98.7h2M283.3 74.8V118.3M282.3 74.8h2M282.3 118.3h2M280.5 68.6V94.6M279.5 68.6h2M279.5 94.6h2M186.7 54.2V92.9M185.7 54.2h2M185.7 92.9h2M250.7 73.4V98.5M249.7 73.4h2M249.7 98.5h2M235.8 68.4V107.9M234.8 68.4h2M234.8 107.9h2M224 79V127.9M223 79h2M223 127.9h2M224.3 74.9V114.5M223.3 74.9h2M223.3 114.5h2M231.3 81V103.6M230.3 81h2M230.3 103.6h2M287.6 54.6V97.7M286.6 54.6h2M286.6 97.7h2M216.1 80.6V109.5M215.1 80.6h2M215.1 109.5h2M234.6 78.2V108.1M233.6 78.2h2M233.6 108.1h2M233.9 77.9V112M232.9 77.9h2M232.9 112h2M289 53.5V97.7M288 53.5h2M288 97.7h2M229.9 79.7V121.8M228.9 79.7h2M228.9 121.8h2M222.2 96.1V110.9M221.2 96.1h2M221.2 110.9h2M195.8 63.3V91.1M194.8 63.3h2M194.8 91.1h2M263.8 68.1V96.1M262.8 68.1h2M262.8 96.1h2M187.5 61.3V84.2M186.5 61.3h2M186.5 84.2h2M219.4 79.6V103.4M218.4 79.6h2M218.4 103.4h2M293.2 45.8V92.3M292.2 45.8h2M292.2 92.3h2M293.7 68.7V105.6M292.7 68.7h2M292.7 105.6h2M208.8 67.4V95.9M207.8 67.4h2M207.8 95.9h2M228 78.8V105.6M227 78.8h2M227 105.6h2M252.9 71.8V98.8M251.9 71.8h2M251.9 98.8h2M269.6 74.1V112.8M268.6 74.1h2M268.6 112.8h2M288 67.5V97.5M287 67.5h2M287 97.5h2M243.2 76V117.7M242.2 76h2M242.2 117.7h2M198.6 58.3V85.7M197.6 58.3h2M197.6 85.7h2M217 82.3V104.3M216 82.3h2M216 104.3h2M208.7 51.3V89.3M207.7 51.3h2M207.7 89.3h2M196.4 60.8V90.8M195.4 60.8h2M195.4 90.8h2M229.3 68.3V88.8M228.3 68.3h2M228.3 88.8h2M186.2 61.2V110.2M185.2 61.2h2M185.2 110.2h2M202.1 58.3V86.1M201.1 58.3h2M201.1 86.1h2M290.3 64.7V79.7M289.3 64.7h2M289.3 79.7h2M193.5 53.8V92.5M192.5 53.8h2M192.5 92.5h2M238.3 69.8V86.1M237.3 69.8h2M237.3 86.1h2M239.6 80.4V106.9M238.6 80.4h2M238.6 106.9h2M213.2 61.5V100.1M212.2 61.5h2M212.2 100.1h2M231.9 67.9V100.2M230.9 67.9h2M230.9 100.2h2M242.5 66.8V91.9M241.5 66.8h2M241.5 91.9h2M225.5 71.7V114.1M224.5 71.7h2M224.5 114.1h2M238.1 74.6V107M237.1 74.6h2M237.1 107h2M249.7 77.1V106.6M248.7 77.1h2M248.7 106.6h2M217.8 76.6V99.2M216.8 76.6h2M216.8 99.2h2M241.3 74.6V99.6M240.3 74.6h2M240.3 99.6h2M214.4 78.2V101.2M213.4 78.2h2M213.4 101.2h2M216.1 73.6V106.4M215.1 73.6h2M215.1 106.4h2M220.8 66.7V115.5M219.8 66.7h2M219.8 115.5h2M191.2 61.5V91.4M190.2 61.5h2M190.2 91.4h2M286.1 62.5V97M285.1 62.5h2M285.1 97h2M248.2 81.8V115M247.2 81.8h2M247.2 115h2M292.2 65.2V96.6M291.2 65.2h2M291.2 96.6h2M266.9 60V96M265.9 60h2M265.9 96h2M219.9 84.2V112.1M218.9 84.2h2M218.9 112.1h2M257.6 69.3V96.3M256.6 69.3h2M256.6 96.3h2M289 57.4V79.3M288 57.4h2M288 79.3h2M243.5 72.5V102M242.5 72.5h2M242.5 102h2M188.4 52V92.4M187.4 52h2M187.4 92.4h2M238.8 71.5V93.8M237.8 71.5h2M237.8 93.8h2" stroke="#bde4ca" stroke-width="0.55" fill="none" opacity="1.0"/>
<path d="M117.7 144.7h3.4M119.4 143v3.4M64.9 84.6h3.4M66.6 82.9v3.4M57.2 77.8h3.4M58.9 76.1v3.4M117.3 148.7h3.4M119 147v3.4M98.6 105.2h3.4M100.3 103.5v3.4M58.3 77h3.4M60 75.3v3.4M56.3 75.6h3.4M58 73.9v3.4M91.4 109.7h3.4M93.1 108v3.4M88.3 92.4h3.4M90 90.7v3.4M100.2 113.3h3.4M101.9 111.6v3.4M107.4 121h3.4M109.1 119.3v3.4M82.7 86.7h3.4M84.4 85v3.4M47.4 77.5h3.4M49.1 75.8v3.4M99.7 109.9h3.4M101.4 108.2v3.4M76.8 81.6h3.4M78.5 79.9v3.4M82.8 92.8h3.4M84.5 91.1v3.4M48.4 89.2h3.4M50.1 87.5v3.4M74.9 87.3h3.4M76.6 85.6v3.4M111.1 140.1h3.4M112.8 138.4v3.4M114.6 141.8h3.4M116.3 140.1v3.4M48 87.3h3.4M49.7 85.6v3.4M87.2 98.2h3.4M88.9 96.5v3.4M80.7 100.3h3.4M82.4 98.6v3.4M65.5 91.3h3.4M67.2 89.6v3.4M69.9 79.6h3.4M71.6 77.9v3.4M58.5 77.6h3.4M60.2 75.9v3.4M51.3 78.8h3.4M53 77.1v3.4M96.8 113.8h3.4M98.5 112.1v3.4M49.2 80.2h3.4M50.9 78.5v3.4M56.9 80.6h3.4M58.6 78.9v3.4M93 109.1h3.4M94.7 107.4v3.4M112.8 132.9h3.4M114.5 131.2v3.4M117 134.5h3.4M118.7 132.8v3.4M88.3 97.1h3.4M90 95.4v3.4M64.7 81.4h3.4M66.4 79.7v3.4M57.3 89.8h3.4M59 88.1v3.4M99.6 102.8h3.4M101.3 101.1v3.4M85 91.5h3.4M86.7 89.8v3.4M82.1 81.9h3.4M83.8 80.2v3.4M114.7 142.2h3.4M116.4 140.5v3.4M61 71.7h3.4M62.7 70v3.4M61 76.7h3.4M62.7 75v3.4M46 72h3.4M47.7 70.3v3.4M56.8 80.5h3.4M58.5 78.8v3.4M76.4 86.1h3.4M78.1 84.4v3.4M86 86.3h3.4M87.7 84.6v3.4M66.6 86.3h3.4M68.3 84.6v3.4M63.2 79h3.4M64.9 77.3v3.4M62.4 85.3h3.4M64.1 83.6v3.4M47.9 74.9h3.4M49.6 73.2v3.4M46.5 69.9h3.4M48.2 68.2v3.4M77.4 87.4h3.4M79.1 85.7v3.4M53.9 76.1h3.4M55.6 74.4v3.4M45.9 88.5h3.4M47.6 86.8v3.4M62.3 76.9h3.4M64 75.2v3.4M70.6 75.3h3.4M72.3 73.6v3.4M73.5 84h3.4M75.2 82.3v3.4M108.1 117.5h3.4M109.8 115.8v3.4M106.5 117.4h3.4M108.2 115.7v3.4M57.1 76.8h3.4M58.8 75.1v3.4M78.4 85.9h3.4M80.1 84.2v3.4M108 128.4h3.4M109.7 126.7v3.4M70.5 83.2h3.4M72.2 81.5v3.4M72.8 92.4h3.4M74.5 90.7v3.4M54.8 84.6h3.4M56.5 82.9v3.4M111.3 137.4h3.4M113 135.7v3.4M109.5 125.2h3.4M111.2 123.5v3.4M72.8 84.8h3.4M74.5 83.1v3.4M45.7 77h3.4M47.4 75.3v3.4M96.3 107h3.4M98 105.3v3.4M58.7 78.4h3.4M60.4 76.7v3.4M108.2 128h3.4M109.9 126.3v3.4M46.4 86.9h3.4M48.1 85.2v3.4M116.5 137.6h3.4M118.2 135.9v3.4M95 99.2h3.4M96.7 97.5v3.4M90.7 105.8h3.4M92.4 104.1v3.4M72.1 81.2h3.4M73.8 79.5v3.4M73.5 81.8h3.4M75.2 80.1v3.4M50.3 76.3h3.4M52 74.6v3.4M95.9 99.1h3.4M97.6 97.4v3.4M70.6 88.6h3.4M72.3 86.9v3.4M87.2 92.2h3.4M88.9 90.5v3.4M69.3 88.1h3.4M71 86.4v3.4M57.3 72.5h3.4M59 70.8v3.4M86.5 105.1h3.4M88.2 103.4v3.4M74.1 81.7h3.4M75.8 80v3.4M71.9 85.5h3.4M73.6 83.8v3.4M66.4 72h3.4M68.1 70.3v3.4M60.4 78.7h3.4M62.1 77v3.4M72.8 85.2h3.4M74.5 83.5v3.4M90.1 90.6h3.4M91.8 88.9v3.4M69.3 86.2h3.4M71 84.5v3.4M94.8 115.7h3.4M96.5 114v3.4M80.1 84.9h3.4M81.8 83.2v3.4M83.3 93.4h3.4M85 91.7v3.4M81.8 92.9h3.4M83.5 91.2v3.4M96.2 112h3.4M97.9 110.3v3.4M55.5 87.2h3.4M57.2 85.5v3.4M81.4 92.6h3.4M83.1 90.9v3.4M97 106.1h3.4M98.7 104.4v3.4M105.4 117.3h3.4M107.1 115.6v3.4M105.6 123.7h3.4M107.3 122v3.4M60.6 80.8h3.4M62.3 79.1v3.4M116.1 145.2h3.4M117.8 143.5v3.4M73.1 94.8h3.4M74.8 93.1v3.4M52.2 83.9h3.4M53.9 82.2v3.4M52.3 79h3.4M54 77.3v3.4M71.3 80.2h3.4M73 78.5v3.4M72.7 77.7h3.4M74.4 76v3.4M95.4 97h3.4M97.1 95.3v3.4M195 79.5h3.4M196.7 77.8v3.4M218.6 105.7h3.4M220.3 104v3.4M213.2 90.5h3.4M214.9 88.8v3.4M188.9 89.3h3.4M190.6 87.6v3.4M203.2 61.5h3.4M204.9 59.8v3.4M236.1 75.9h3.4M237.8 74.2v3.4M243.3 80.9h3.4M245 79.2v3.4M277.5 90.7h3.4M279.2 89v3.4M202.5 77.9h3.4M204.2 76.2v3.4M222.4 95.7h3.4M224.1 94v3.4M206.2 77h3.4M207.9 75.3v3.4M269.7 83.5h3.4M271.4 81.8v3.4M267 87.7h3.4M268.7 86v3.4M260.2 85.2h3.4M261.9 83.5v3.4M208.1 74.4h3.4M209.8 72.7v3.4M223.1 90.6h3.4M224.8 88.9v3.4M218.4 101.8h3.4M220.1 100.1v3.4M264.3 74.7h3.4M266 73v3.4M198.9 69.2h3.4M200.6 67.5v3.4M227.3 86.7h3.4M229 85v3.4M279.3 77.7h3.4M281 76v3.4M230.2 93.6h3.4M231.9 91.9v3.4M202.7 72.3h3.4M204.4 70.6v3.4M203.3 61.6h3.4M205 59.9v3.4M224.5 90.1h3.4M226.2 88.4v3.4M276.6 77.5h3.4M278.3 75.8v3.4M274.6 80.7h3.4M276.3 79v3.4M225.2 93.4h3.4M226.9 91.7v3.4M186.8 72.1h3.4M188.5 70.4v3.4M284.8 85.7h3.4M286.5 84v3.4M217.4 94.1h3.4M219.1 92.4v3.4M197.1 82.2h3.4M198.8 80.5v3.4M254.1 97.8h3.4M255.8 96.1v3.4M291.6 91.8h3.4M293.3 90.1v3.4M271.3 75.6h3.4M273 73.9v3.4M213.8 88.8h3.4M215.5 87.1v3.4M236.8 87.4h3.4M238.5 85.7v3.4M243.2 96.7h3.4M244.9 95v3.4M194.2 81h3.4M195.9 79.3v3.4M196.1 77.2h3.4M197.8 75.5v3.4M281.6 94.7h3.4M283.3 93v3.4M278.8 82.2h3.4M280.5 80.5v3.4M185 74.9h3.4M186.7 73.2v3.4M249 84.5h3.4M250.7 82.8v3.4M234.1 89.3h3.4M235.8 87.6v3.4M222.3 103.2h3.4M224 101.5v3.4M222.6 92.7h3.4M224.3 91v3.4M229.6 92.2h3.4M231.3 90.5v3.4M285.9 74.6h3.4M287.6 72.9v3.4M214.4 95.5h3.4M216.1 93.8v3.4M232.9 93.6h3.4M234.6 91.9v3.4M232.2 94.4h3.4M233.9 92.7v3.4M287.3 77.5h3.4M289 75.8v3.4M228.2 100h3.4M229.9 98.3v3.4M220.5 103.6h3.4M222.2 101.9v3.4M194.1 77.2h3.4M195.8 75.5v3.4M262.1 82h3.4M263.8 80.3v3.4M185.8 72.5h3.4M187.5 70.8v3.4M217.7 91.5h3.4M219.4 89.8v3.4M291.5 68.8h3.4M293.2 67.1v3.4M292 86.2h3.4M293.7 84.5v3.4M207.1 82.3h3.4M208.8 80.6v3.4M226.3 90.8h3.4M228 89.1v3.4M251.2 85.5h3.4M252.9 83.8v3.4M267.9 90.1h3.4M269.6 88.4v3.4M286.3 82h3.4M288 80.3v3.4M241.5 95.9h3.4M243.2 94.2v3.4M196.9 70.7h3.4M198.6 69v3.4M215.3 94.2h3.4M217 92.5v3.4M207 68.9h3.4M208.7 67.2v3.4M194.7 77h3.4M196.4 75.3v3.4M227.6 79.6h3.4M229.3 77.9v3.4M184.5 85.8h3.4M186.2 84.1v3.4M200.4 71.6h3.4M202.1 69.9v3.4M288.6 71.6h3.4M290.3 69.9v3.4M191.8 75.3h3.4M193.5 73.6v3.4M236.6 78.5h3.4M238.3 76.8v3.4M237.9 92.5h3.4M239.6 90.8v3.4M211.5 81.3h3.4M213.2 79.6v3.4M230.2 86.6h3.4M231.9 84.9v3.4M240.8 79.7h3.4M242.5 78v3.4M223.8 90.7h3.4M225.5 89v3.4M236.4 93.9h3.4M238.1 92.2v3.4M248 92.5h3.4M249.7 90.8v3.4M216.1 87.5h3.4M217.8 85.8v3.4M239.6 86.6h3.4M241.3 84.9v3.4M212.7 90.7h3.4M214.4 89v3.4M214.4 90.4h3.4M216.1 88.7v3.4M219.1 91.8h3.4M220.8 90.1v3.4M189.5 76.6h3.4M191.2 74.9v3.4M284.4 80.3h3.4M286.1 78.6v3.4M246.5 97.6h3.4M248.2 95.9v3.4M290.5 81.9h3.4M292.2 80.2v3.4M265.2 79.3h3.4M266.9 77.6v3.4M218.2 96.1h3.4M219.9 94.4v3.4M255.9 82.2h3.4M257.6 80.5v3.4M287.3 67.8h3.4M289 66.1v3.4M241.8 88.3h3.4M243.5 86.6v3.4M186.7 71.3h3.4M188.4 69.6v3.4M237.1 84.2h3.4M238.8 82.5v3.4" stroke="#78c894" stroke-width="0.7" fill="none" opacity="1.0"/>
<path d="M91.8 87.9V120M90.8 87.9h2M90.8 120h2M55.3 58.3V92.3M54.3 58.3h2M54.3 92.3h2M81.2 81.6V101.5M80.2 81.6h2M80.2 101.5h2M106.8 102V134.7M105.8 102h2M105.8 134.7h2M91 86.2V108.9M90 86.2h2M90 108.9h2M68.8 71.4V89.7M67.8 71.4h2M67.8 89.7h2M106.5 115.4V135.5M105.5 115.4h2M105.5 135.5h2M92.4 87.2V116.6M91.4 87.2h2M91.4 116.6h2M89 81.1V100.6M88 81.1h2M88 100.6h2M104.9 114.6V125.9M103.9 114.6h2M103.9 125.9h2M58.8 63.4V96.9M57.8 63.4h2M57.8 96.9h2M93.2 82.6V102.2M92.2 82.6h2M92.2 102.2h2M67.9 79V101.8M66.9 79h2M66.9 101.8h2M90.8 85.7V114.9M89.8 85.7h2M89.8 114.9h2M61 65.6V95M60 65.6h2M60 95h2M62.2 63.3V98.1M61.2 63.3h2M61.2 98.1h2M55.1 78.7V93M54.1 78.7h2M54.1 93h2M91.2 78.6V105.3M90.2 78.6h2M90.2 105.3h2M61.4 74V107.3M60.4 74h2M60.4 107.3h2M59.7 60V92M58.7 60h2M58.7 92h2M76.9 71.6V95.5M75.9 71.6h2M75.9 95.5h2M51.9 77.3V98.9M50.9 77.3h2M50.9 98.9h2M51.4 62.5V88.4M50.4 62.5h2M50.4 88.4h2M99.9 104.2V129.2M98.9 104.2h2M98.9 129.2h2M81 82.4V110.3M80 82.4h2M80 110.3h2M77.8 78.8V107.6M76.8 78.8h2M76.8 107.6h2M67.3 64.1V90.7M66.3 64.1h2M66.3 90.7h2M75.6 74.9V108.5M74.6 74.9h2M74.6 108.5h2M80.4 76.7V108M79.4 76.7h2M79.4 108h2M104.1 112.8V139.4M103.1 112.8h2M103.1 139.4h2M103.9 108.5V137.2M102.9 108.5h2M102.9 137.2h2M83.6 77V89.8M82.6 77h2M82.6 89.8h2M105.4 106.6V137.8M104.4 106.6h2M104.4 137.8h2M46.5 72.5V102.7M45.5 72.5h2M45.5 102.7h2M81.5 85.4V94.7M80.5 85.4h2M80.5 94.7h2M95 101.6V124.1M94 101.6h2M94 124.1h2M66.8 77.6V104M65.8 77.6h2M65.8 104h2M78.1 65.2V99.3M77.1 65.2h2M77.1 99.3h2M100.6 98.7V127.2M99.6 98.7h2M99.6 127.2h2M94.4 84.9V115.5M93.4 84.9h2M93.4 115.5h2M77.9 70.5V102.7M76.9 70.5h2M76.9 102.7h2M64 57.5V97.3M63 57.5h2M63 97.3h2M79 80.3V109.3M78 80.3h2M78 109.3h2M71.1 75.4V102.3M70.1 75.4h2M70.1 102.3h2M107.4 104.8V136.9M106.4 104.8h2M106.4 136.9h2M66.3 74.1V92.1M65.3 74.1h2M65.3 92.1h2M91.7 79.7V105.2M90.7 79.7h2M90.7 105.2h2M69 76.6V105.4M68 76.6h2M68 105.4h2M100.3 109.5V132.1M99.3 109.5h2M99.3 132.1h2M53.9 73.8V80M52.9 73.8h2M52.9 80h2M262.1 81V103.9M261.1 81h2M261.1 103.9h2M231.9 70.8V108.4M230.9 70.8h2M230.9 108.4h2M213.3 69.3V100.4M212.3 69.3h2M212.3 100.4h2M207.2 51.5V83.4M206.2 51.5h2M206.2 83.4h2M247.1 75.3V101.7M246.1 75.3h2M246.1 101.7h2M225.6 90.2V98.9M224.6 90.2h2M224.6 98.9h2M227.7 70.1V103M226.7 70.1h2M226.7 103h2M240.5 65.8V84.7M239.5 65.8h2M239.5 84.7h2M288.5 64.6V97.3M287.5 64.6h2M287.5 97.3h2M200.1 55.6V92.4M199.1 55.6h2M199.1 92.4h2M196.9 54.4V100.8M195.9 54.4h2M195.9 100.8h2M241 71.6V100.8M240 71.6h2M240 100.8h2M220.8 79.6V105.5M219.8 79.6h2M219.8 105.5h2M226.4 60.6V105.6M225.4 60.6h2M225.4 105.6h2M248.5 60.1V95.3M247.5 60.1h2M247.5 95.3h2M287.6 82.8V97.3M286.6 82.8h2M286.6 97.3h2M292.5 57.7V95.4M291.5 57.7h2M291.5 95.4h2M252.8 74.6V114M251.8 74.6h2M251.8 114h2M263 58.8V104.8M262 58.8h2M262 104.8h2M245.9 69.8V100.7M244.9 69.8h2M244.9 100.7h2M251.8 70.7V92.5M250.8 70.7h2M250.8 92.5h2M242.7 69.6V80.4M241.7 69.6h2M241.7 80.4h2M203.4 60.6V88.8M202.4 60.6h2M202.4 88.8h2M220.2 91.2V116.3M219.2 91.2h2M219.2 116.3h2M288.6 57.5V91.1M287.6 57.5h2M287.6 91.1h2M244.8 67.2V105.1M243.8 67.2h2M243.8 105.1h2M274.5 80.7V112.6M273.5 80.7h2M273.5 112.6h2M265.5 82.9V98.1M264.5 82.9h2M264.5 98.1h2M225 76.8V117.7M224 76.8h2M224 117.7h2M229 82V103.9M228 82h2M228 103.9h2M258.8 79V117.5M257.8 79h2M257.8 117.5h2M281.3 60.5V101.9M280.3 60.5h2M280.3 101.9h2M292.5 61.3V88.5M291.5 61.3h2M291.5 88.5h2M280.9 75.8V91.7M279.9 75.8h2M279.9 91.7h2M288.4 64.4V86.2M287.4 64.4h2M287.4 86.2h2M197.3 61V104.9M196.3 61h2M196.3 104.9h2M271.8 71.6V90.6M270.8 71.6h2M270.8 90.6h2M213.5 68.9V89.8M212.5 68.9h2M212.5 89.8h2M286.8 69.7V100.5M285.8 69.7h2M285.8 100.5h2M290.3 70.5V92.7M289.3 70.5h2M289.3 92.7h2M243.3 80.6V117M242.3 80.6h2M242.3 117h2M268.7 64.6V101.8M267.7 64.6h2M267.7 101.8h2M227.4 78V110.6M226.4 78h2M226.4 110.6h2M288.9 64.2V86.6M287.9 64.2h2M287.9 86.6h2M241.9 75.1V106.5M240.9 75.1h2M240.9 106.5h2M270.5 58.9V90.6M269.5 58.9h2M269.5 90.6h2M219.9 72.1V94M218.9 72.1h2M218.9 94h2M270.8 70.6V103.4M269.8 70.6h2M269.8 103.4h2M266.2 71V96.3M265.2 71h2M265.2 96.3h2M264.9 63.1V95.1M263.9 63.1h2M263.9 95.1h2M289.5 69.8V95.6M288.5 69.8h2M288.5 95.6h2M263.8 65.2V99.2M262.8 65.2h2M262.8 99.2h2M268.7 54.6V97.3M267.7 54.6h2M267.7 97.3h2M199.6 61.9V86.3M198.6 61.9h2M198.6 86.3h2M196.7 62.9V96.2M195.7 62.9h2M195.7 96.2h2M289.4 73.4V95.7M288.4 73.4h2M288.4 95.7h2M292.4 67V105.5M291.4 67h2M291.4 105.5h2M245.4 58.8V97.2M244.4 58.8h2M244.4 97.2h2M273.3 71.7V92.4M272.3 71.7h2M272.3 92.4h2M239.8 61.1V103.4M238.8 61.1h2M238.8 103.4h2" stroke="#c6e0d2" stroke-width="0.5" fill="none" opacity="1.0"/>
<path d="M90.4 102h2.8v2.8h-2.8zM53.9 74.4h2.8v2.8h-2.8zM79.8 90.4h2.8v2.8h-2.8zM105.4 116.8h2.8v2.8h-2.8zM89.6 94.4h2.8v2.8h-2.8zM67.4 79.2h2.8v2.8h-2.8zM105.1 124.6h2.8v2.8h-2.8zM91 103h2.8v2.8h-2.8zM87.6 89.8h2.8v2.8h-2.8zM103.5 118h2.8v2.8h-2.8zM57.4 80.5h2.8v2.8h-2.8zM91.8 91.4h2.8v2.8h-2.8zM66.5 87.8h2.8v2.8h-2.8zM89.4 97.2h2.8v2.8h-2.8zM59.6 77.8h2.8v2.8h-2.8zM60.8 78.2h2.8v2.8h-2.8zM53.7 84.5h2.8v2.8h-2.8zM89.8 90.9h2.8v2.8h-2.8zM60 87.9h2.8v2.8h-2.8zM58.3 74h2.8v2.8h-2.8zM75.5 80.5h2.8v2.8h-2.8zM50.5 84.9h2.8v2.8h-2.8zM50 75.7h2.8v2.8h-2.8zM98.5 115.4h2.8v2.8h-2.8zM79.6 95.1h2.8v2.8h-2.8zM76.4 90.7h2.8v2.8h-2.8zM65.9 76.7h2.8v2.8h-2.8zM74.2 89.1h2.8v2.8h-2.8zM79 89.8h2.8v2.8h-2.8zM102.7 124.9h2.8v2.8h-2.8zM102.5 121.2h2.8v2.8h-2.8zM82.2 81.4h2.8v2.8h-2.8zM104 120.5h2.8v2.8h-2.8zM45.1 86.7h2.8v2.8h-2.8zM80.1 88.6h2.8v2.8h-2.8zM93.6 111.6h2.8v2.8h-2.8zM65.4 88.5h2.8v2.8h-2.8zM76.7 81.7h2.8v2.8h-2.8zM99.2 110.9h2.8v2.8h-2.8zM93 100h2.8v2.8h-2.8zM76.5 85h2.8v2.8h-2.8zM62.6 75.5h2.8v2.8h-2.8zM77.6 93.5h2.8v2.8h-2.8zM69.7 86.1h2.8v2.8h-2.8zM106 119.5h2.8v2.8h-2.8zM64.9 81.1h2.8v2.8h-2.8zM90.3 89.7h2.8v2.8h-2.8zM67.6 89.4h2.8v2.8h-2.8zM98.9 118.2h2.8v2.8h-2.8zM52.5 75.5h2.8v2.8h-2.8zM260.7 92.1h2.8v2.8h-2.8zM230.5 91.5h2.8v2.8h-2.8zM211.9 83.9h2.8v2.8h-2.8zM205.8 65.5h2.8v2.8h-2.8zM245.7 87.5h2.8v2.8h-2.8zM224.2 93.4h2.8v2.8h-2.8zM226.3 84.6h2.8v2.8h-2.8zM239.1 74.4h2.8v2.8h-2.8zM287.1 80.7h2.8v2.8h-2.8zM198.7 74.6h2.8v2.8h-2.8zM195.5 75.5h2.8v2.8h-2.8zM239.6 85.7h2.8v2.8h-2.8zM219.4 90.8h2.8v2.8h-2.8zM225 82.5h2.8v2.8h-2.8zM247.1 78.6h2.8v2.8h-2.8zM286.2 88.1h2.8v2.8h-2.8zM291.1 77h2.8v2.8h-2.8zM251.4 93.7h2.8v2.8h-2.8zM261.6 78.6h2.8v2.8h-2.8zM244.5 84.6h2.8v2.8h-2.8zM250.4 79.2h2.8v2.8h-2.8zM241.3 73.4h2.8v2.8h-2.8zM202 73.4h2.8v2.8h-2.8zM218.8 102h2.8v2.8h-2.8zM287.2 71.1h2.8v2.8h-2.8zM243.4 82.4h2.8v2.8h-2.8zM273.1 94.9h2.8v2.8h-2.8zM264.1 88.1h2.8v2.8h-2.8zM223.6 93.7h2.8v2.8h-2.8zM227.6 91.5h2.8v2.8h-2.8zM257.4 93.6h2.8v2.8h-2.8zM279.9 79.6h2.8v2.8h-2.8zM291.1 75.4h2.8v2.8h-2.8zM279.5 82.8h2.8v2.8h-2.8zM287 74h2.8v2.8h-2.8zM195.9 79.6h2.8v2.8h-2.8zM270.4 79.8h2.8v2.8h-2.8zM212.1 79.2h2.8v2.8h-2.8zM285.4 84.6h2.8v2.8h-2.8zM288.9 79.6h2.8v2.8h-2.8zM241.9 97.6h2.8v2.8h-2.8zM267.3 83.1h2.8v2.8h-2.8zM226 92.3h2.8v2.8h-2.8zM287.5 74.4h2.8v2.8h-2.8zM240.5 88.6h2.8v2.8h-2.8zM269.1 73.4h2.8v2.8h-2.8zM218.5 82.4h2.8v2.8h-2.8zM269.4 86.6h2.8v2.8h-2.8zM264.8 82.5h2.8v2.8h-2.8zM263.5 76.4h2.8v2.8h-2.8zM288.1 80.7h2.8v2.8h-2.8zM262.4 80.3h2.8v2.8h-2.8zM267.3 74.8h2.8v2.8h-2.8zM198.2 71.5h2.8v2.8h-2.8zM195.3 79.4h2.8v2.8h-2.8zM288 83.7h2.8v2.8h-2.8zM291 82.4h2.8v2.8h-2.8zM244 78.9h2.8v2.8h-2.8zM271.9 80.5h2.8v2.8h-2.8zM238.4 81.4h2.8v2.8h-2.8z" stroke="#98c6ac" stroke-width="0.6" fill="none" opacity="1.0"/>
<path d="M87.5 71.4V104M86.5 71.4h2M86.5 104h2M65.7 83.6V99.1M64.7 83.6h2M64.7 99.1h2M81.9 78V102.2M80.9 78h2M80.9 102.2h2M81.1 75V95.1M80.1 75h2M80.1 95.1h2M87.4 74V96.8M86.4 74h2M86.4 96.8h2M45.9 54.5V88.4M44.9 54.5h2M44.9 88.4h2M57.1 52.1V91.4M56.1 52.1h2M56.1 91.4h2M48.3 57.9V79.4M47.3 57.9h2M47.3 79.4h2M77.5 75.9V91.7M76.5 75.9h2M76.5 91.7h2M58.8 68.6V88.6M57.8 68.6h2M57.8 88.6h2M52.5 69V92.9M51.5 69h2M51.5 92.9h2M60.1 61.3V83.7M59.1 61.3h2M59.1 83.7h2M79.4 85.1V106.2M78.4 85.1h2M78.4 106.2h2M68.1 68.6V105.2M67.1 68.6h2M67.1 105.2h2M99.5 89.4V109.4M98.5 89.4h2M98.5 109.4h2M49.1 55.7V98.1M48.1 55.7h2M48.1 98.1h2M65.9 62.4V94.7M64.9 62.4h2M64.9 94.7h2M65.6 68.1V93.2M64.6 68.1h2M64.6 93.2h2M96.3 91.6V119.4M95.3 91.6h2M95.3 119.4h2M88.7 85.5V108.1M87.7 85.5h2M87.7 108.1h2M46.5 78.1V91.4M45.5 78.1h2M45.5 91.4h2M83.5 68V104.1M82.5 68h2M82.5 104.1h2M62.3 53.1V87.5M61.3 53.1h2M61.3 87.5h2M99.3 92.2V124.3M98.3 92.2h2M98.3 124.3h2M98 87V124.1M97 87h2M97 124.1h2M95.3 91.7V115.6M94.3 91.7h2M94.3 115.6h2M56.9 81.2V96.9M55.9 81.2h2M55.9 96.9h2M57.6 65.7V90M56.6 65.7h2M56.6 90h2M91.3 81.3V102.2M90.3 81.3h2M90.3 102.2h2M64.4 73.5V100.1M63.4 73.5h2M63.4 100.1h2M114.3 129.1V159.4M113.3 129.1h2M113.3 159.4h2M193.4 62.1V84.7M192.4 62.1h2M192.4 84.7h2M178.6 62.4V98.2M177.6 62.4h2M177.6 98.2h2M136.5 161.2V193.1M135.5 161.2h2M135.5 193.1h2M115.8 129.5V151.4M114.8 129.5h2M114.8 151.4h2M224.2 86.1V105.4M223.2 86.1h2M223.2 105.4h2M170.1 69.8V106.8M169.1 69.8h2M169.1 106.8h2M174 62V91.1M173 62h2M173 91.1h2M103.1 95.7V133M102.1 95.7h2M102.1 133h2M140 148.4V198.1M139 148.4h2M139 198.1h2M196.8 64.2V85M195.8 64.2h2M195.8 85h2M223.3 89.9V120.1M222.3 89.9h2M222.3 120.1h2M134.6 161.6V190.3M133.6 161.6h2M133.6 190.3h2M220.7 74.3V103.4M219.7 74.3h2M219.7 103.4h2M101.9 95.7V133.7M100.9 95.7h2M100.9 133.7h2M178.7 73.9V103.9M177.7 73.9h2M177.7 103.9h2M181.5 59.9V106.6M180.5 59.9h2M180.5 106.6h2M130.4 136.7V172.2M129.4 136.7h2M129.4 172.2h2M188.4 64.2V96.2M187.4 64.2h2M187.4 96.2h2M110.2 114.5V139.9M109.2 114.5h2M109.2 139.9h2M114.2 116.9V145.8M113.2 116.9h2M113.2 145.8h2M206.2 58V90.5M205.2 58h2M205.2 90.5h2M128.2 143.6V179.6M127.2 143.6h2M127.2 179.6h2M145 138.9V182.3M144 138.9h2M144 182.3h2M186.1 64.3V94.8M185.1 64.3h2M185.1 94.8h2M215.3 70.4V112.5M214.3 70.4h2M214.3 112.5h2M235.6 63.9V108.7M234.6 63.9h2M234.6 108.7h2M109.2 110.1V149.9M108.2 110.1h2M108.2 149.9h2M198.1 67.3V97.4M197.1 67.3h2M197.1 97.4h2M200.4 55.5V86.9M199.4 55.5h2M199.4 86.9h2M174.3 70.3V105.4M173.3 70.3h2M173.3 105.4h2M146.2 136.5V180M145.2 136.5h2M145.2 180h2M170 66.9V97.7M169 66.9h2M169 97.7h2M126.6 136.9V164.4M125.6 136.9h2M125.6 164.4h2M126.5 123.7V162.2M125.5 123.7h2M125.5 162.2h2M206.5 58.5V87.2M205.5 58.5h2M205.5 87.2h2M122.7 129V163.2M121.7 129h2M121.7 163.2h2M112.1 122.3V163.8M111.1 122.3h2M111.1 163.8h2M105.2 106.5V138.7M104.2 106.5h2M104.2 138.7h2M128.1 142V167.7M127.1 142h2M127.1 167.7h2M152.6 126.8V168.4M151.6 126.8h2M151.6 168.4h2M166.4 92.5V124.6M165.4 92.5h2M165.4 124.6h2M101.3 107.2V130.2M100.3 107.2h2M100.3 130.2h2M231.6 71.7V111.6M230.6 71.7h2M230.6 111.6h2M198.9 61.6V89.4M197.9 61.6h2M197.9 89.4h2M205 66.4V83.6M204 66.4h2M204 83.6h2M155.1 136.4V155.2M154.1 136.4h2M154.1 155.2h2M203.7 64.2V91.9M202.7 64.2h2M202.7 91.9h2M225.7 69.5V95.5M224.7 69.5h2M224.7 95.5h2M191.8 64.7V95.1M190.8 64.7h2M190.8 95.1h2M118.4 125.8V153.8M117.4 125.8h2M117.4 153.8h2M145.2 142V171.7M144.2 142h2M144.2 171.7h2M238.2 64V104.5M237.2 64h2M237.2 104.5h2M218.9 77.4V115.7M217.9 77.4h2M217.9 115.7h2M100.1 101V134.8M99.1 101h2M99.1 134.8h2M189.3 68.8V104.9M188.3 68.8h2M188.3 104.9h2M201.2 75.6V88.5M200.2 75.6h2M200.2 88.5h2M155.6 110.8V157.2M154.6 110.8h2M154.6 157.2h2M121.3 144.4V150.7M120.3 144.4h2M120.3 150.7h2M122.7 137.4V171M121.7 137.4h2M121.7 171h2M180.1 71.2V78.4M179.1 71.2h2M179.1 78.4h2M105 88.3V126.7M104 88.3h2M104 126.7h2M219.9 75.6V108.7M218.9 75.6h2M218.9 108.7h2M132.1 154.1V184.5M131.1 154.1h2M131.1 184.5h2M117.9 121.2V139.7M116.9 121.2h2M116.9 139.7h2M194 67.9V79.6M193 67.9h2M193 79.6h2M220.8 86.4V94.2M219.8 86.4h2M219.8 94.2h2M188.6 60.5V91.2M187.6 60.5h2M187.6 91.2h2M184.2 59.6V85.8M183.2 59.6h2M183.2 85.8h2M185 69.2V73.5M184 69.2h2M184 73.5h2M264.6 57.4V90.7M263.6 57.4h2M263.6 90.7h2M266.1 60.1V101.7M265.1 60.1h2M265.1 101.7h2M242.5 65.8V99M241.5 65.8h2M241.5 99h2M248.1 56.5V96.4M247.1 56.5h2M247.1 96.4h2M255.9 55.8V93.8M254.9 55.8h2M254.9 93.8h2M287.8 63.1V95.9M286.8 63.1h2M286.8 95.9h2M280.5 75.7V111.1M279.5 75.7h2M279.5 111.1h2M272.7 78.2V113.5M271.7 78.2h2M271.7 113.5h2M282.1 66V100.6M281.1 66h2M281.1 100.6h2M288.6 71.3V95M287.6 71.3h2M287.6 95h2M265.4 60.1V103.8M264.4 60.1h2M264.4 103.8h2M244 88.1V108.6M243 88.1h2M243 108.6h2M279.1 84.4V104.3M278.1 84.4h2M278.1 104.3h2M247.6 59.3V84.8M246.6 59.3h2M246.6 84.8h2M269.8 62V103.3M268.8 62h2M268.8 103.3h2M258.2 54.5V95.4M257.2 54.5h2M257.2 95.4h2M246.4 69.7V107.5M245.4 69.7h2M245.4 107.5h2M274.8 62.2V102.6M273.8 62.2h2M273.8 102.6h2M272.7 69V114.1M271.7 69h2M271.7 114.1h2M281.6 60.1V80.6M280.6 60.1h2M280.6 80.6h2M275 60V99.4M274 60h2M274 99.4h2M259 52.1V101.4M258 52.1h2M258 101.4h2M285.6 55.2V93M284.6 55.2h2M284.6 93h2M245.4 86.2V96M244.4 86.2h2M244.4 96h2M246.3 67.6V110.5M245.3 67.6h2M245.3 110.5h2" stroke="#d2cccc" stroke-width="0.55" fill="none" opacity="1.0"/>
<path d="M87.5 87.1l1.9 1.9l-1.9 1.9l-1.9 -1.9zM65.7 90l1.9 1.9l-1.9 1.9l-1.9 -1.9zM81.9 87.7l1.9 1.9l-1.9 1.9l-1.9 -1.9zM81.1 84l1.9 1.9l-1.9 1.9l-1.9 -1.9zM87.4 82.7l1.9 1.9l-1.9 1.9l-1.9 -1.9zM45.9 68.3l1.9 1.9l-1.9 1.9l-1.9 -1.9zM57.1 67.1l1.9 1.9l-1.9 1.9l-1.9 -1.9zM48.3 67.7l1.9 1.9l-1.9 1.9l-1.9 -1.9zM77.5 82.2l1.9 1.9l-1.9 1.9l-1.9 -1.9zM58.8 75.9l1.9 1.9l-1.9 1.9l-1.9 -1.9zM52.5 78.6l1.9 1.9l-1.9 1.9l-1.9 -1.9zM60.1 71.4l1.9 1.9l-1.9 1.9l-1.9 -1.9zM79.4 92.7l1.9 1.9l-1.9 1.9l-1.9 -1.9zM68.1 84.7l1.9 1.9l-1.9 1.9l-1.9 -1.9zM99.5 96.7l1.9 1.9l-1.9 1.9l-1.9 -1.9zM49.1 74.5l1.9 1.9l-1.9 1.9l-1.9 -1.9zM65.9 78.4l1.9 1.9l-1.9 1.9l-1.9 -1.9zM65.6 77.3l1.9 1.9l-1.9 1.9l-1.9 -1.9zM96.3 103.7l1.9 1.9l-1.9 1.9l-1.9 -1.9zM88.7 94.4l1.9 1.9l-1.9 1.9l-1.9 -1.9zM46.5 82.2l1.9 1.9l-1.9 1.9l-1.9 -1.9zM83.5 83.2l1.9 1.9l-1.9 1.9l-1.9 -1.9zM62.3 68.3l1.9 1.9l-1.9 1.9l-1.9 -1.9zM99.3 108l1.9 1.9l-1.9 1.9l-1.9 -1.9zM98 102.2l1.9 1.9l-1.9 1.9l-1.9 -1.9zM95.3 100.9l1.9 1.9l-1.9 1.9l-1.9 -1.9zM56.9 86.9l1.9 1.9l-1.9 1.9l-1.9 -1.9zM57.6 77.6l1.9 1.9l-1.9 1.9l-1.9 -1.9zM91.3 90l1.9 1.9l-1.9 1.9l-1.9 -1.9zM64.4 87.1l1.9 1.9l-1.9 1.9l-1.9 -1.9zM114.3 142l1.9 1.9l-1.9 1.9l-1.9 -1.9zM193.4 71.9l1.9 1.9l-1.9 1.9l-1.9 -1.9zM178.6 78.2l1.9 1.9l-1.9 1.9l-1.9 -1.9zM136.5 176.3l1.9 1.9l-1.9 1.9l-1.9 -1.9zM115.8 139l1.9 1.9l-1.9 1.9l-1.9 -1.9zM224.2 93.8l1.9 1.9l-1.9 1.9l-1.9 -1.9zM170.1 86.5l1.9 1.9l-1.9 1.9l-1.9 -1.9zM174 76.6l1.9 1.9l-1.9 1.9l-1.9 -1.9zM103.1 113.1l1.9 1.9l-1.9 1.9l-1.9 -1.9zM140 172l1.9 1.9l-1.9 1.9l-1.9 -1.9zM196.8 72.4l1.9 1.9l-1.9 1.9l-1.9 -1.9zM223.3 105.4l1.9 1.9l-1.9 1.9l-1.9 -1.9zM134.6 174.6l1.9 1.9l-1.9 1.9l-1.9 -1.9zM220.7 84.3l1.9 1.9l-1.9 1.9l-1.9 -1.9zM101.9 114.9l1.9 1.9l-1.9 1.9l-1.9 -1.9zM178.7 87.5l1.9 1.9l-1.9 1.9l-1.9 -1.9zM181.5 82.3l1.9 1.9l-1.9 1.9l-1.9 -1.9zM130.4 151.7l1.9 1.9l-1.9 1.9l-1.9 -1.9zM188.4 79.8l1.9 1.9l-1.9 1.9l-1.9 -1.9zM110.2 126.3l1.9 1.9l-1.9 1.9l-1.9 -1.9zM114.2 129.6l1.9 1.9l-1.9 1.9l-1.9 -1.9zM206.2 74.5l1.9 1.9l-1.9 1.9l-1.9 -1.9zM128.2 158.1l1.9 1.9l-1.9 1.9l-1.9 -1.9zM145 156.7l1.9 1.9l-1.9 1.9l-1.9 -1.9zM186.1 78.2l1.9 1.9l-1.9 1.9l-1.9 -1.9zM215.3 88.1l1.9 1.9l-1.9 1.9l-1.9 -1.9zM235.6 85.4l1.9 1.9l-1.9 1.9l-1.9 -1.9zM109.2 125.9l1.9 1.9l-1.9 1.9l-1.9 -1.9zM198.1 81.2l1.9 1.9l-1.9 1.9l-1.9 -1.9zM200.4 69.7l1.9 1.9l-1.9 1.9l-1.9 -1.9zM174.3 87.9l1.9 1.9l-1.9 1.9l-1.9 -1.9zM146.2 159.5l1.9 1.9l-1.9 1.9l-1.9 -1.9zM170 81.4l1.9 1.9l-1.9 1.9l-1.9 -1.9zM126.6 151.1l1.9 1.9l-1.9 1.9l-1.9 -1.9zM126.5 140.6l1.9 1.9l-1.9 1.9l-1.9 -1.9zM206.5 72.9l1.9 1.9l-1.9 1.9l-1.9 -1.9zM122.7 145.8l1.9 1.9l-1.9 1.9l-1.9 -1.9zM112.1 139.9l1.9 1.9l-1.9 1.9l-1.9 -1.9zM105.2 121l1.9 1.9l-1.9 1.9l-1.9 -1.9zM128.1 151.9l1.9 1.9l-1.9 1.9l-1.9 -1.9zM152.6 146.2l1.9 1.9l-1.9 1.9l-1.9 -1.9zM166.4 106.1l1.9 1.9l-1.9 1.9l-1.9 -1.9zM101.3 116.5l1.9 1.9l-1.9 1.9l-1.9 -1.9zM231.6 91l1.9 1.9l-1.9 1.9l-1.9 -1.9zM198.9 73.6l1.9 1.9l-1.9 1.9l-1.9 -1.9zM205 74.3l1.9 1.9l-1.9 1.9l-1.9 -1.9zM155.1 142.3l1.9 1.9l-1.9 1.9l-1.9 -1.9zM203.7 75.3l1.9 1.9l-1.9 1.9l-1.9 -1.9zM225.7 81l1.9 1.9l-1.9 1.9l-1.9 -1.9zM191.8 77.5l1.9 1.9l-1.9 1.9l-1.9 -1.9zM118.4 138.9l1.9 1.9l-1.9 1.9l-1.9 -1.9zM145.2 153.8l1.9 1.9l-1.9 1.9l-1.9 -1.9zM238.2 84.4l1.9 1.9l-1.9 1.9l-1.9 -1.9zM218.9 96.2l1.9 1.9l-1.9 1.9l-1.9 -1.9zM100.1 113.7l1.9 1.9l-1.9 1.9l-1.9 -1.9zM189.3 84l1.9 1.9l-1.9 1.9l-1.9 -1.9zM201.2 80.3l1.9 1.9l-1.9 1.9l-1.9 -1.9zM155.6 131.1l1.9 1.9l-1.9 1.9l-1.9 -1.9zM121.3 145.4l1.9 1.9l-1.9 1.9l-1.9 -1.9zM122.7 150.4l1.9 1.9l-1.9 1.9l-1.9 -1.9zM180.1 72.8l1.9 1.9l-1.9 1.9l-1.9 -1.9zM105 106.1l1.9 1.9l-1.9 1.9l-1.9 -1.9zM219.9 92.5l1.9 1.9l-1.9 1.9l-1.9 -1.9zM132.1 165.8l1.9 1.9l-1.9 1.9l-1.9 -1.9zM117.9 129l1.9 1.9l-1.9 1.9l-1.9 -1.9zM194 71.8l1.9 1.9l-1.9 1.9l-1.9 -1.9zM220.8 88l1.9 1.9l-1.9 1.9l-1.9 -1.9zM188.6 74.6l1.9 1.9l-1.9 1.9l-1.9 -1.9zM184.2 70.5l1.9 1.9l-1.9 1.9l-1.9 -1.9zM185 69.7l1.9 1.9l-1.9 1.9l-1.9 -1.9zM264.6 70.5l1.9 1.9l-1.9 1.9l-1.9 -1.9zM266.1 76.5l1.9 1.9l-1.9 1.9l-1.9 -1.9zM242.5 82.3l1.9 1.9l-1.9 1.9l-1.9 -1.9zM248.1 75.8l1.9 1.9l-1.9 1.9l-1.9 -1.9zM255.9 73.8l1.9 1.9l-1.9 1.9l-1.9 -1.9zM287.8 75.2l1.9 1.9l-1.9 1.9l-1.9 -1.9zM280.5 90.6l1.9 1.9l-1.9 1.9l-1.9 -1.9zM272.7 94.7l1.9 1.9l-1.9 1.9l-1.9 -1.9zM282.1 82l1.9 1.9l-1.9 1.9l-1.9 -1.9zM288.6 79.8l1.9 1.9l-1.9 1.9l-1.9 -1.9zM265.4 78.1l1.9 1.9l-1.9 1.9l-1.9 -1.9zM244 97.1l1.9 1.9l-1.9 1.9l-1.9 -1.9zM279.1 91.5l1.9 1.9l-1.9 1.9l-1.9 -1.9zM247.6 71.7l1.9 1.9l-1.9 1.9l-1.9 -1.9zM269.8 80.7l1.9 1.9l-1.9 1.9l-1.9 -1.9zM258.2 74.1l1.9 1.9l-1.9 1.9l-1.9 -1.9zM246.4 87.9l1.9 1.9l-1.9 1.9l-1.9 -1.9zM274.8 77.4l1.9 1.9l-1.9 1.9l-1.9 -1.9zM272.7 89.6l1.9 1.9l-1.9 1.9l-1.9 -1.9zM281.6 69.5l1.9 1.9l-1.9 1.9l-1.9 -1.9zM275 76.7l1.9 1.9l-1.9 1.9l-1.9 -1.9zM259 75.4l1.9 1.9l-1.9 1.9l-1.9 -1.9zM285.6 71.9l1.9 1.9l-1.9 1.9l-1.9 -1.9zM245.4 89.1l1.9 1.9l-1.9 1.9l-1.9 -1.9zM246.3 90.6l1.9 1.9l-1.9 1.9l-1.9 -1.9z" stroke="#b8aeae" stroke-width="0.65" fill="none" opacity="1.0"/>
<path d="M113.8 119.5V141.7M112.8 119.5h2M112.8 141.7h2M106.9 122.1V153.1M105.9 122.1h2M105.9 153.1h2M115 124.2V146.3M114 124.2h2M114 146.3h2M116.2 123.9V149.4M115.2 123.9h2M115.2 149.4h2M118.2 132.3V145.9M117.2 132.3h2M117.2 145.9h2M112.9 135.9V147.4M111.9 135.9h2M111.9 147.4h2M115.8 132V153.5M114.8 132h2M114.8 153.5h2M118.6 133.6V147.5M117.6 133.6h2M117.6 147.5h2M121.8 128.5V158.4M120.8 128.5h2M120.8 158.4h2M117.4 131.9V156.6M116.4 131.9h2M116.4 156.6h2M120.2 137.4V164.3M119.2 137.4h2M119.2 164.3h2M127.9 142.2V157.3M126.9 142.2h2M126.9 157.3h2M122.2 142.9V165M121.2 142.9h2M121.2 165h2M127.5 143.8V170M126.5 143.8h2M126.5 170h2M120.8 130.6V167.4M119.8 130.6h2M119.8 167.4h2M127.3 142.6V156.2M126.3 142.6h2M126.3 156.2h2M122.4 145.2V165.3M121.4 145.2h2M121.4 165.3h2M127.3 149.7V169.5M126.3 149.7h2M126.3 169.5h2M130.5 150.2V171.6M129.5 150.2h2M129.5 171.6h2M132.1 157.4V169.9M131.1 157.4h2M131.1 169.9h2M130.5 155.1V181.8M129.5 155.1h2M129.5 181.8h2M136.2 157.3V179.9M135.2 157.3h2M135.2 179.9h2M134.6 165.2V183.1M133.6 165.2h2M133.6 183.1h2M137.4 164.3V187M136.4 164.3h2M136.4 187h2M125 139.6V169M124 139.6h2M124 169h2M124 137.9V157M123 137.9h2M123 157h2M110 125.8V149.1M109 125.8h2M109 149.1h2M129 156.9V170.2M128 156.9h2M128 170.2h2" stroke="#e0caee" stroke-width="0.5" fill="none" opacity="1.0"/>
<path d="M113.8 126.1l3.1 3.1l-3.1 3.1l-3.1 -3.1zM106.9 134.1l3.1 3.1l-3.1 3.1l-3.1 -3.1zM115 132.5l3.1 3.1l-3.1 3.1l-3.1 -3.1zM116.2 135.4l3.1 3.1l-3.1 3.1l-3.1 -3.1zM118.2 136.2l3.1 3.1l-3.1 3.1l-3.1 -3.1zM112.9 138.6l3.1 3.1l-3.1 3.1l-3.1 -3.1zM115.8 138.6l3.1 3.1l-3.1 3.1l-3.1 -3.1zM118.6 137.8l3.1 3.1l-3.1 3.1l-3.1 -3.1zM121.8 138.6l3.1 3.1l-3.1 3.1l-3.1 -3.1zM117.4 139.8l3.1 3.1l-3.1 3.1l-3.1 -3.1zM120.2 145.9l3.1 3.1l-3.1 3.1l-3.1 -3.1zM127.9 145.9l3.1 3.1l-3.1 3.1l-3.1 -3.1zM122.2 151.5l3.1 3.1l-3.1 3.1l-3.1 -3.1zM127.5 154.8l3.1 3.1l-3.1 3.1l-3.1 -3.1zM120.8 146.3l3.1 3.1l-3.1 3.1l-3.1 -3.1zM127.3 145.9l3.1 3.1l-3.1 3.1l-3.1 -3.1zM122.4 152.4l3.1 3.1l-3.1 3.1l-3.1 -3.1zM127.3 156.1l3.1 3.1l-3.1 3.1l-3.1 -3.1zM130.5 157.7l3.1 3.1l-3.1 3.1l-3.1 -3.1zM132.1 160.5l3.1 3.1l-3.1 3.1l-3.1 -3.1zM130.5 167l3.1 3.1l-3.1 3.1l-3.1 -3.1zM136.2 165.4l3.1 3.1l-3.1 3.1l-3.1 -3.1zM134.6 171.8l3.1 3.1l-3.1 3.1l-3.1 -3.1zM137.4 172.6l3.1 3.1l-3.1 3.1l-3.1 -3.1zM125 148.9l3.1 3.1l-3.1 3.1l-3.1 -3.1zM124 143.9l3.1 3.1l-3.1 3.1l-3.1 -3.1zM110 134.9l3.1 3.1l-3.1 3.1l-3.1 -3.1zM129 160.9l3.1 3.1l-3.1 3.1l-3.1 -3.1z" fill="#a23fd6" opacity="1.0"/>
<path d="M145.9 140.5V157.3M144.9 140.5h2M144.9 157.3h2M150.3 140.4V160.4M149.3 140.4h2M149.3 160.4h2M153.2 145V159.2M152.2 145h2M152.2 159.2h2M149.9 141.1V162.4M148.9 141.1h2M148.9 162.4h2M136.2 138.8V167.7M135.2 138.8h2M135.2 167.7h2M137.8 141.5V176.5M136.8 141.5h2M136.8 176.5h2M141 148.7V170.8M140 148.7h2M140 170.8h2M144.3 150.5V171.4M143.3 150.5h2M143.3 171.4h2M146.7 149.4V174.3M145.7 149.4h2M145.7 174.3h2M136.2 155.4V173.3M135.2 155.4h2M135.2 173.3h2M140.2 156.2V175.9M139.2 156.2h2M139.2 175.9h2M142.7 159.4V170.8M141.7 159.4h2M141.7 170.8h2M145.9 156.4V169.8M144.9 156.4h2M144.9 169.8h2M138.6 155.9V179M137.6 155.9h2M137.6 179h2M142.2 157.8V182.2M141.2 157.8h2M141.2 182.2h2M140.6 161.9V183.2M139.6 161.9h2M139.6 183.2h2M143.2 165V193.4M142.2 165h2M142.2 193.4h2M163.8 88V104.8M162.8 88h2M162.8 104.8h2M168.7 81V109.5M167.7 81h2M167.7 109.5h2M170.7 89.7V113.7M169.7 89.7h2M169.7 113.7h2M164.3 89.5V121.4M163.3 89.5h2M163.3 121.4h2M167.2 94.1V116.5M166.2 94.1h2M166.2 116.5h2M171.7 92.6V119M170.7 92.6h2M170.7 119h2M165.2 97.9V123.5M164.2 97.9h2M164.2 123.5h2M159.8 102.3V120.4M158.8 102.3h2M158.8 120.4h2M158.8 98.9V130.3M157.8 98.9h2M157.8 130.3h2M162.3 116V125.9M161.3 116h2M161.3 125.9h2M163.3 115.9V129.4M162.3 115.9h2M162.3 129.4h2M157.3 113.6V135.4M156.3 113.6h2M156.3 135.4h2M159.8 118.3V139.5M158.8 118.3h2M158.8 139.5h2M150.4 121.9V149.5M149.4 121.9h2M149.4 149.5h2M153.9 123.5V153.3M152.9 123.5h2M152.9 153.3h2M149.9 127.6V150.2M148.9 127.6h2M148.9 150.2h2M154.9 125.7V153.1M153.9 125.7h2M153.9 153.1h2M151.4 138.1V158.4M150.4 138.1h2M150.4 158.4h2M163.2 82.9V109M162.2 82.9h2M162.2 109h2M165.8 86.3V101.8M164.8 86.3h2M164.8 101.8h2M167.2 78.3V100.7M166.2 78.3h2M166.2 100.7h2M169.4 78.4V97.4M168.4 78.4h2M168.4 97.4h2M172.6 82.4V97.2M171.6 82.4h2M171.6 97.2h2M174.4 80.1V97.1M173.4 80.1h2M173.4 97.1h2M176.5 74V98.1M175.5 74h2M175.5 98.1h2M173.3 80.3V106.3M172.3 80.3h2M172.3 106.3h2M174.7 87.2V102.1M173.7 87.2h2M173.7 102.1h2M179.1 81.3V104.2M178.1 81.3h2M178.1 104.2h2M177.3 77.2V92.5M176.3 77.2h2M176.3 92.5h2M179.4 69.2V97.3M178.4 69.2h2M178.4 97.3h2M181.6 68.5V79.8M180.6 68.5h2M180.6 79.8h2M182.3 69.3V84.6M181.3 69.3h2M181.3 84.6h2M183.7 62.1V82.1M182.7 62.1h2M182.7 82.1h2M185.2 66.5V90.9M184.2 66.5h2M184.2 90.9h2M184.8 76V88.4M183.8 76h2M183.8 88.4h2M187.3 71.5V82.5M186.3 71.5h2M186.3 82.5h2M188.4 65.5V97.2M187.4 65.5h2M187.4 97.2h2M187.7 80.3V93M186.7 80.3h2M186.7 93h2M189.5 76.8V96M188.5 76.8h2M188.5 96h2M190.9 65.8V86.7M189.9 65.8h2M189.9 86.7h2M192.7 78.9V88.3M191.7 78.9h2M191.7 88.3h2M193.1 55.8V79.6M192.1 55.8h2M192.1 79.6h2M196 64.9V82.9M195 64.9h2M195 82.9h2M197.4 62.6V86.4M196.4 62.6h2M196.4 86.4h2M195.3 66.1V88.4M194.3 66.1h2M194.3 88.4h2M196.7 72.2V90.6M195.7 72.2h2M195.7 90.6h2M193.6 54V84.2M192.6 54h2M192.6 84.2h2M191.3 68.4V85.5M190.3 68.4h2M190.3 85.5h2M194.9 60.5V89.5M193.9 60.5h2M193.9 89.5h2M198.1 61V84.1M197.1 61h2M197.1 84.1h2M200.3 60.1V86.3M199.3 60.1h2M199.3 86.3h2M203.5 56.6V79M202.5 56.6h2M202.5 79h2M202.1 61.6V83.1M201.1 61.6h2M201.1 83.1h2M207.1 60.4V81M206.1 60.4h2M206.1 81h2M208.9 60.2V83.5M207.9 60.2h2M207.9 83.5h2M196.7 68.2V94M195.7 68.2h2M195.7 94h2M192.7 69.4V95.2M191.7 69.4h2M191.7 95.2h2M199.4 65.7V86.5M198.4 65.7h2M198.4 86.5h2M202.6 70.7V82.9M201.6 70.7h2M201.6 82.9h2M207.1 69.2V87.8M206.1 69.2h2M206.1 87.8h2M210.2 67.5V93.8M209.2 67.5h2M209.2 93.8h2M209.3 63V104.8M208.3 63h2M208.3 104.8h2M212 75.1V96M211 75.1h2M211 96h2M204.8 77.5V99.6M203.8 77.5h2M203.8 99.6h2M215.2 76.4V96.9M214.2 76.4h2M214.2 96.9h2M213.8 79.2V112.5M212.8 79.2h2M212.8 112.5h2M217 78.4V106.3M216 78.4h2M216 106.3h2M219.7 88.5V106.7M218.7 88.5h2M218.7 106.7h2M218.8 92.6V105.8M217.8 92.6h2M217.8 105.8h2M223.3 79.7V111.1M222.3 79.7h2M222.3 111.1h2M225.1 85.6V100.8M224.1 85.6h2M224.1 100.8h2M191.3 77.7V93.1M190.3 77.7h2M190.3 93.1h2M161 109.7V123.8M160 109.7h2M160 123.8h2M156 120.1V143.2M155 120.1h2M155 143.2h2M166 83.7V113M165 83.7h2M165 113h2M170 77.3V113.6M169 77.3h2M169 113.6h2M205 61.7V85.1M204 61.7h2M204 85.1h2M211 64.9V84.5M210 64.9h2M210 84.5h2M216 79.2V105.9M215 79.2h2M215 105.9h2M221 88.9V109.6M220 88.9h2M220 109.6h2" stroke="#bfe2f0" stroke-width="0.5" fill="none" opacity="1.0"/>
<path d="M145.9 152.5l2.5 -4.5h-5.1zM150.3 152.9l2.5 -4.5h-5.1zM153.2 153.2l2.5 -4.5h-5.1zM149.9 155.2l2.5 -4.5h-5.1zM136.2 158.1l2.5 -4.5h-5.1zM137.8 161.4l2.5 -4.5h-5.1zM141 162.2l2.5 -4.5h-5.1zM144.3 162.2l2.5 -4.5h-5.1zM146.7 163.8l2.5 -4.5h-5.1zM136.2 166.2l2.5 -4.5h-5.1zM140.2 168.6l2.5 -4.5h-5.1zM142.7 167.8l2.5 -4.5h-5.1zM145.9 166.2l2.5 -4.5h-5.1zM138.6 171.1l2.5 -4.5h-5.1zM142.2 173.5l2.5 -4.5h-5.1zM140.6 174.2l2.5 -4.5h-5.1zM143.2 180.9l2.5 -4.5h-5.1zM163.8 99l2.5 -4.5h-5.1zM168.7 99l2.5 -4.5h-5.1zM170.7 104.5l2.5 -4.5h-5.1zM164.3 106.5l2.5 -4.5h-5.1zM167.2 109.5l2.5 -4.5h-5.1zM171.7 108.5l2.5 -4.5h-5.1zM165.2 112.8l2.5 -4.5h-5.1zM159.8 114.8l2.5 -4.5h-5.1zM158.8 116.8l2.5 -4.5h-5.1zM162.3 124.2l2.5 -4.5h-5.1zM163.3 126.2l2.5 -4.5h-5.1zM157.3 126.8l2.5 -4.5h-5.1zM159.8 131.8l2.5 -4.5h-5.1zM150.4 139.2l2.5 -4.5h-5.1zM153.9 140.2l2.5 -4.5h-5.1zM149.9 142.2l2.5 -4.5h-5.1zM154.9 144.1l2.5 -4.5h-5.1zM151.4 151.1l2.5 -4.5h-5.1zM163.2 98.5l2.5 -4.5h-5.1zM165.8 96.3l2.5 -4.5h-5.1zM167.2 92.8l2.5 -4.5h-5.1zM169.4 90.6l2.5 -4.5h-5.1zM172.6 92.8l2.5 -4.5h-5.1zM174.4 91.3l2.5 -4.5h-5.1zM176.5 89.8l2.5 -4.5h-5.1zM173.3 95.6l2.5 -4.5h-5.1zM174.7 97l2.5 -4.5h-5.1zM179.1 95.6l2.5 -4.5h-5.1zM177.3 87.8l2.5 -4.5h-5.1zM179.4 86.2l2.5 -4.5h-5.1zM181.6 77l2.5 -4.5h-5.1zM182.3 79l2.5 -4.5h-5.1zM183.7 76.2l2.5 -4.5h-5.1zM185.2 80.5l2.5 -4.5h-5.1zM184.8 84.1l2.5 -4.5h-5.1zM187.3 79l2.5 -4.5h-5.1zM188.4 82l2.5 -4.5h-5.1zM187.7 88.5l2.5 -4.5h-5.1zM189.5 88.5l2.5 -4.5h-5.1zM190.9 79.8l2.5 -4.5h-5.1zM192.7 85.5l2.5 -4.5h-5.1zM193.1 71.1l2.5 -4.5h-5.1zM196 75.5l2.5 -4.5h-5.1zM197.4 77l2.5 -4.5h-5.1zM195.3 79l2.5 -4.5h-5.1zM196.7 83.5l2.5 -4.5h-5.1zM193.6 71.5l2.5 -4.5h-5.1zM191.3 79.5l2.5 -4.5h-5.1zM194.9 77.8l2.5 -4.5h-5.1zM198.1 74.6l2.5 -4.5h-5.1zM200.3 76.5l2.5 -4.5h-5.1zM203.5 70.1l2.5 -4.5h-5.1zM202.1 73.8l2.5 -4.5h-5.1zM207.1 73.2l2.5 -4.5h-5.1zM208.9 74.1l2.5 -4.5h-5.1zM196.7 83.6l2.5 -4.5h-5.1zM192.7 85.5l2.5 -4.5h-5.1zM199.4 79.1l2.5 -4.5h-5.1zM202.6 79.1l2.5 -4.5h-5.1zM207.1 79.5l2.5 -4.5h-5.1zM210.2 83.1l2.5 -4.5h-5.1zM209.3 86.8l2.5 -4.5h-5.1zM212 88.1l2.5 -4.5h-5.1zM204.8 90.8l2.5 -4.5h-5.1zM215.2 90.8l2.5 -4.5h-5.1zM213.8 97.1l2.5 -4.5h-5.1zM217 96.2l2.5 -4.5h-5.1zM219.7 100.8l2.5 -4.5h-5.1zM218.8 102.5l2.5 -4.5h-5.1zM223.3 99l2.5 -4.5h-5.1zM225.1 95.3l2.5 -4.5h-5.1zM191.3 88.1l2.5 -4.5h-5.1zM161 119.5l2.5 -4.5h-5.1zM156 133.6l2.5 -4.5h-5.1zM166 101.5l2.5 -4.5h-5.1zM170 97.5l2.5 -4.5h-5.1zM205 76.5l2.5 -4.5h-5.1zM211 78.5l2.5 -4.5h-5.1zM216 94.5l2.5 -4.5h-5.1zM221 101.5l2.5 -4.5h-5.1z" fill="#1fa6d6" opacity="1.0"/>
<path d="M108.9 115.5V130.4M107.9 115.5h2M107.9 130.4h2M110.1 116V135.9M109.1 116h2M109.1 135.9h2M106.1 119.6V141.8M105.1 119.6h2M105.1 141.8h2M106.9 122.9V144.3M105.9 122.9h2M105.9 144.3h2M112.1 122.6V145.4M111.1 122.6h2M111.1 145.4h2M120.1 117.5V146.1M119.1 117.5h2M119.1 146.1h2M123.5 132.9V145.3M122.5 132.9h2M122.5 145.3h2M113.3 128.2V155.2M112.3 128.2h2M112.3 155.2h2M120.6 135.5V154.6M119.6 135.5h2M119.6 154.6h2M125.1 136.9V154.8M124.1 136.9h2M124.1 154.8h2M126.3 138.7V155.2M125.3 138.7h2M125.3 155.2h2M129.9 143.3V154.4M128.9 143.3h2M128.9 154.4h2M118.6 139.2V162.9M117.6 139.2h2M117.6 162.9h2M127.9 144.1V165.1M126.9 144.1h2M126.9 165.1h2M132.8 147.1V167.2M131.8 147.1h2M131.8 167.2h2M138.4 143.6V157.7M137.4 143.6h2M137.4 157.7h2M143.7 146.4V164.3M142.7 146.4h2M142.7 164.3h2M144.3 135.2V160.7M143.3 135.2h2M143.3 160.7h2M138.6 145V156.9M137.6 145h2M137.6 156.9h2M140.6 142.9V168.6M139.6 142.9h2M139.6 168.6h2M149.5 142.9V167.2M148.5 142.9h2M148.5 167.2h2M145.9 135.1V160.4M144.9 135.1h2M144.9 160.4h2M154.4 136.9V163.9M153.4 136.9h2M153.4 163.9h2M147.5 136.7V153.1M146.5 136.7h2M146.5 153.1h2M135 153.4V172.1M134 153.4h2M134 172.1h2M128.5 156.1V175.5M127.5 156.1h2M127.5 175.5h2M141.4 152.4V176.5M140.4 152.4h2M140.4 176.5h2M144.7 146.8V187.8M143.7 146.8h2M143.7 187.8h2M147.9 157.6V167.5M146.9 157.6h2M146.9 167.5h2M140.2 161.8V184.1M139.2 161.8h2M139.2 184.1h2M130.5 163.9V188.5M129.5 163.9h2M129.5 188.5h2M159.3 112.8V130.5M158.3 112.8h2M158.3 130.5h2M155.8 120.9V133.6M154.8 120.9h2M154.8 133.6h2M156.3 120.4V140.9M155.3 120.4h2M155.3 140.9h2M158.3 124.7V137.7M157.3 124.7h2M157.3 137.7h2M149.9 135.7V143.4M148.9 135.7h2M148.9 143.4h2M152.4 131.8V151.1M151.4 131.8h2M151.4 151.1h2M146.9 137.2V152.3M145.9 137.2h2M145.9 152.3h2M148.4 130.8V158.7M147.4 130.8h2M147.4 158.7h2M154.4 139.5V157M153.4 139.5h2M153.4 157h2" stroke="#c9c4cc" stroke-width="0.5" fill="none" opacity="1.0"/>
<path d="M107 122.7a1.9 1.9 0 1 0 3.8 0a1.9 1.9 0 1 0 -3.8 0M108.2 125.9a1.9 1.9 0 1 0 3.8 0a1.9 1.9 0 1 0 -3.8 0M104.2 131.2a1.9 1.9 0 1 0 3.8 0a1.9 1.9 0 1 0 -3.8 0M105 134a1.9 1.9 0 1 0 3.8 0a1.9 1.9 0 1 0 -3.8 0M110.2 134.8a1.9 1.9 0 1 0 3.8 0a1.9 1.9 0 1 0 -3.8 0M118.2 133.2a1.9 1.9 0 1 0 3.8 0a1.9 1.9 0 1 0 -3.8 0M121.6 139.7a1.9 1.9 0 1 0 3.8 0a1.9 1.9 0 1 0 -3.8 0M111.4 140.1a1.9 1.9 0 1 0 3.8 0a1.9 1.9 0 1 0 -3.8 0M118.7 145.3a1.9 1.9 0 1 0 3.8 0a1.9 1.9 0 1 0 -3.8 0M123.2 145.7a1.9 1.9 0 1 0 3.8 0a1.9 1.9 0 1 0 -3.8 0M124.4 146.1a1.9 1.9 0 1 0 3.8 0a1.9 1.9 0 1 0 -3.8 0M128 148.2a1.9 1.9 0 1 0 3.8 0a1.9 1.9 0 1 0 -3.8 0M116.7 150.2a1.9 1.9 0 1 0 3.8 0a1.9 1.9 0 1 0 -3.8 0M126 153.4a1.9 1.9 0 1 0 3.8 0a1.9 1.9 0 1 0 -3.8 0M130.9 156.7a1.9 1.9 0 1 0 3.8 0a1.9 1.9 0 1 0 -3.8 0M136.5 151.4a1.9 1.9 0 1 0 3.8 0a1.9 1.9 0 1 0 -3.8 0M141.8 155.5a1.9 1.9 0 1 0 3.8 0a1.9 1.9 0 1 0 -3.8 0M142.4 148.2a1.9 1.9 0 1 0 3.8 0a1.9 1.9 0 1 0 -3.8 0M136.7 151.1a1.9 1.9 0 1 0 3.8 0a1.9 1.9 0 1 0 -3.8 0M138.7 155.5a1.9 1.9 0 1 0 3.8 0a1.9 1.9 0 1 0 -3.8 0M147.6 155.5a1.9 1.9 0 1 0 3.8 0a1.9 1.9 0 1 0 -3.8 0M144 147.8a1.9 1.9 0 1 0 3.8 0a1.9 1.9 0 1 0 -3.8 0M152.5 148.2a1.9 1.9 0 1 0 3.8 0a1.9 1.9 0 1 0 -3.8 0M145.6 145.8a1.9 1.9 0 1 0 3.8 0a1.9 1.9 0 1 0 -3.8 0M133.1 161.6a1.9 1.9 0 1 0 3.8 0a1.9 1.9 0 1 0 -3.8 0M126.6 165.2a1.9 1.9 0 1 0 3.8 0a1.9 1.9 0 1 0 -3.8 0M139.5 163.6a1.9 1.9 0 1 0 3.8 0a1.9 1.9 0 1 0 -3.8 0M142.8 167.2a1.9 1.9 0 1 0 3.8 0a1.9 1.9 0 1 0 -3.8 0M146 162a1.9 1.9 0 1 0 3.8 0a1.9 1.9 0 1 0 -3.8 0M138.3 172.9a1.9 1.9 0 1 0 3.8 0a1.9 1.9 0 1 0 -3.8 0M128.6 178.2a1.9 1.9 0 1 0 3.8 0a1.9 1.9 0 1 0 -3.8 0M157.4 120.2a1.9 1.9 0 1 0 3.8 0a1.9 1.9 0 1 0 -3.8 0M153.9 126.2a1.9 1.9 0 1 0 3.8 0a1.9 1.9 0 1 0 -3.8 0M154.4 131.6a1.9 1.9 0 1 0 3.8 0a1.9 1.9 0 1 0 -3.8 0M156.4 132.1a1.9 1.9 0 1 0 3.8 0a1.9 1.9 0 1 0 -3.8 0M148 140a1.9 1.9 0 1 0 3.8 0a1.9 1.9 0 1 0 -3.8 0M150.5 141.5a1.9 1.9 0 1 0 3.8 0a1.9 1.9 0 1 0 -3.8 0M145 145a1.9 1.9 0 1 0 3.8 0a1.9 1.9 0 1 0 -3.8 0M146.5 145.5a1.9 1.9 0 1 0 3.8 0a1.9 1.9 0 1 0 -3.8 0M152.5 147.5a1.9 1.9 0 1 0 3.8 0a1.9 1.9 0 1 0 -3.8 0" fill="#050505" opacity="1.0"/>
<path d="M249.1 42.6V94M248.1 42.6h2M248.1 94h2M228.9 53.7V125.8M227.9 53.7h2M227.9 125.8h2M231.3 71.2V101.2M230.3 71.2h2M230.3 101.2h2M233.7 71.3V106.9M232.7 71.3h2M232.7 106.9h2M230.1 70.8V107.8M229.1 70.8h2M229.1 107.8h2M232.1 79.1V106.5M231.1 79.1h2M231.1 106.5h2M235.3 73V112.8M234.3 73h2M234.3 112.8h2M229.7 90V102.4M228.7 90h2M228.7 102.4h2M230.9 72V121.8M229.9 72h2M229.9 121.8h2M236.9 57.4V104.9M235.9 57.4h2M235.9 104.9h2M239.8 60.5V95M238.8 60.5h2M238.8 95h2M246.7 65.1V88.2M245.7 65.1h2M245.7 88.2h2M253.9 73.8V85.2M252.9 73.8h2M252.9 85.2h2M255.6 51.2V102.2M254.6 51.2h2M254.6 102.2h2M254.7 73.2V92.4M253.7 73.2h2M253.7 92.4h2M241 69.9V110.4M240 69.9h2M240 110.4h2M244.2 68.1V100.1M243.2 68.1h2M243.2 100.1h2M245 76V103.2M244 76h2M244 103.2h2M251.5 69.5V106M250.5 69.5h2M250.5 106h2M253.1 79.5V108.9M252.1 79.5h2M252.1 108.9h2M240.2 76.6V108.3M239.2 76.6h2M239.2 108.3h2M284.6 53.6V84.7M283.6 53.6h2M283.6 84.7h2M256.2 57.3V102.1M255.2 57.3h2M255.2 102.1h2M279.3 63.6V88.8M278.3 63.6h2M278.3 88.8h2M281.7 73.5V81M280.7 73.5h2M280.7 81h2M270 71.4V99.1M269 71.4h2M269 99.1h2M281.7 61.6V103.5M280.7 61.6h2M280.7 103.5h2M261.5 56V116.1M260.5 56h2M260.5 116.1h2M282.5 66.3V121.4M281.5 66.3h2M281.5 121.4h2M267.1 69.7V112.2M266.1 69.7h2M266.1 112.2h2M262.7 80.1V120.5M261.7 80.1h2M261.7 120.5h2M275.2 61.6V113.1M274.2 61.6h2M274.2 113.1h2M263.5 71V111.7M262.5 71h2M262.5 111.7h2M265 76.2V114.1M264 76.2h2M264 114.1h2M272 64.3V105.8M271 64.3h2M271 105.8h2M277 63.4V99.3M276 63.4h2M276 99.3h2M288 61.9V100.8M287 61.9h2M287 100.8h2" stroke="#f5cbc2" stroke-width="0.5" fill="none" opacity="1.0"/>
<path d="M246.7 66.8h4.9v4.9h-4.9zM226.5 85.8h4.9v4.9h-4.9zM228.9 85.5h4.9v4.9h-4.9zM231.2 86.6h4.9v4.9h-4.9zM227.7 89.1h4.9v4.9h-4.9zM229.7 90.8h4.9v4.9h-4.9zM232.9 90.8h4.9v4.9h-4.9zM227.2 93.1h4.9v4.9h-4.9zM228.5 96.8h4.9v4.9h-4.9zM234.5 82.6h4.9v4.9h-4.9zM237.4 77h4.9v4.9h-4.9zM244.2 75.3h4.9v4.9h-4.9zM251.5 76.1h4.9v4.9h-4.9zM253.2 77h4.9v4.9h-4.9zM252.2 79.3h4.9v4.9h-4.9zM238.6 84.2h4.9v4.9h-4.9zM241.8 82.6h4.9v4.9h-4.9zM242.6 86.6h4.9v4.9h-4.9zM249.1 87.5h4.9v4.9h-4.9zM250.7 90.8h4.9v4.9h-4.9zM237.8 88.2h4.9v4.9h-4.9zM282.2 69.2h4.9v4.9h-4.9zM253.8 77.3h4.9v4.9h-4.9zM276.9 75h4.9v4.9h-4.9zM279.2 74.5h4.9v4.9h-4.9zM267.6 81h4.9v4.9h-4.9zM279.2 81.8h4.9v4.9h-4.9zM259.1 83.5h4.9v4.9h-4.9zM280.1 88.3h4.9v4.9h-4.9zM264.7 91.5h4.9v4.9h-4.9zM260.2 97.2h4.9v4.9h-4.9zM272.8 85.5h4.9v4.9h-4.9zM261.1 86.6h4.9v4.9h-4.9zM262.6 92.5h4.9v4.9h-4.9zM269.6 82.5h4.9v4.9h-4.9zM274.6 77.5h4.9v4.9h-4.9zM285.6 75.5h4.9v4.9h-4.9z" fill="#e03a22" opacity="1.0"/>
<path d="M246.7 62.8V87.5M245.7 62.8h2M245.7 87.5h2M252.3 67.7V81.5M251.3 67.7h2M251.3 81.5h2M256.8 58.6V89.3M255.8 58.6h2M255.8 89.3h2M239.4 63.7V88.9M238.4 63.7h2M238.4 88.9h2M244.2 57V101.4M243.2 57h2M243.2 101.4h2M238.2 61.7V97.4M237.2 61.7h2M237.2 97.4h2M248.3 55.7V106.7M247.3 55.7h2M247.3 106.7h2M242.6 74.6V87.5M241.6 74.6h2M241.6 87.5h2M236.9 66.3V109.3M235.9 66.3h2M235.9 109.3h2M242.2 73.6V98.8M241.2 73.6h2M241.2 98.8h2M247.5 60.1V107.8M246.5 60.1h2M246.5 107.8h2M250.7 60.5V100.9M249.7 60.5h2M249.7 100.9h2M251.5 70.1V100.4M250.5 70.1h2M250.5 100.4h2M239 72.6V103.1M238 72.6h2M238 103.1h2M242.2 76.5V99.9M241.2 76.5h2M241.2 99.9h2M245.8 71.4V101.7M244.8 71.4h2M244.8 101.7h2M255.6 63.9V107M254.6 63.9h2M254.6 107h2M249.1 83.2V98.6M248.1 83.2h2M248.1 98.6h2M254.7 71.4V114.1M253.7 71.4h2M253.7 114.1h2M258.4 86.4V102.2M257.4 86.4h2M257.4 102.2h2M257.4 68.5V80.7M256.4 68.5h2M256.4 80.7h2M261.5 59.4V95.2M260.5 59.4h2M260.5 95.2h2M270.4 60.1V81.2M269.4 60.1h2M269.4 81.2h2M281.3 56.3V79.6M280.3 56.3h2M280.3 79.6h2M287.4 37V90.7M286.4 37h2M286.4 90.7h2M285.4 60.1V93.1M284.4 60.1h2M284.4 93.1h2M275.6 58.2V94.8M274.6 58.2h2M274.6 94.8h2M274.4 56.1V103.5M273.4 56.1h2M273.4 103.5h2M285 69.3V97M284 69.3h2M284 97h2M277.7 57V114.6M276.7 57h2M276.7 114.6h2M263.9 75.7V90.3M262.9 75.7h2M262.9 90.3h2M256.6 56V112M255.6 56h2M255.6 112h2M265.5 69.4V103M264.5 69.4h2M264.5 103h2M276.9 76.4V109.8M275.9 76.4h2M275.9 109.8h2M255.4 72.9V114.3M254.4 72.9h2M254.4 114.3h2M259.5 67.2V122.2M258.5 67.2h2M258.5 122.2h2M267.1 71.7V126M266.1 71.7h2M266.1 126h2M268 75.8V84.1M267 75.8h2M267 84.1h2M272 74.2V100M271 74.2h2M271 100h2M279 63.6V110.3M278 63.6h2M278 110.3h2" stroke="#c0c6ec" stroke-width="0.5" fill="none" opacity="1.0"/>
<path d="M246.7 72l2.2 3.9h-4.5zM252.3 72.3l2.2 3.9h-4.5zM256.8 72.8l2.2 3.9h-4.5zM239.4 74.8l2.2 3.9h-4.5zM244.2 75.2l2.2 3.9h-4.5zM238.2 78l2.2 3.9h-4.5zM248.3 77.2l2.2 3.9h-4.5zM242.6 78l2.2 3.9h-4.5zM236.9 83.7l2.2 3.9h-4.5zM242.2 82.8l2.2 3.9h-4.5zM247.5 82l2.2 3.9h-4.5zM250.7 80l2.2 3.9h-4.5zM251.5 83.7l2.2 3.9h-4.5zM239 86.5l2.2 3.9h-4.5zM242.2 86l2.2 3.9h-4.5zM245.8 85.2l2.2 3.9h-4.5zM255.6 84.5l2.2 3.9h-4.5zM249.1 88.5l2.2 3.9h-4.5zM254.7 90.5l2.2 3.9h-4.5zM258.4 91.8l2.2 3.9h-4.5zM257.4 72.8l2.2 3.9h-4.5zM261.5 76l2.2 3.9h-4.5zM270.4 69.8l2.2 3.9h-4.5zM281.3 66.2l2.2 3.9h-4.5zM287.4 65.5l2.2 3.9h-4.5zM285.4 72.3l2.2 3.9h-4.5zM275.6 74.8l2.2 3.9h-4.5zM274.4 76l2.2 3.9h-4.5zM285 79.2l2.2 3.9h-4.5zM277.7 82.5l2.2 3.9h-4.5zM263.9 81.2l2.2 3.9h-4.5zM256.6 83.7l2.2 3.9h-4.5zM265.5 85.2l2.2 3.9h-4.5zM276.9 88.5l2.2 3.9h-4.5zM255.4 91l2.2 3.9h-4.5zM259.5 93l2.2 3.9h-4.5zM267.1 95l2.2 3.9h-4.5zM268 77.8l2.2 3.9h-4.5zM272 85.8l2.2 3.9h-4.5zM279 83.8l2.2 3.9h-4.5z" fill="#2a36b4" opacity="1.0"/>
</g>
<path d="M218.1 144.8a1.8 1.8 0 1 0 3.6 0a1.8 1.8 0 1 0 -3.6 0" fill="#050505"/>
<text x="233.2" y="147.8" font-size="8.6" fill="#404040" stroke="#404040" stroke-width="0.3">2010 Dec 17</text>
<path d="M218.3 151.2h3.2v3.2h-3.2z" fill="#e03a22"/>
<text x="233.2" y="155.8" font-size="8.6" fill="#d85a50" stroke="#d85a50" stroke-width="0.3">2010 Dec 20</text>
<path d="M219.9 158.5l2.4 2.4l-2.4 2.4l-2.4 -2.4z" fill="#a23fd6"/>
<text x="233.2" y="163.9" font-size="8.6" fill="#b070d4" stroke="#b070d4" stroke-width="0.3">2010 Dec 23</text>
<path d="M219.9 166.7l2.2 3.9h-4.4z" fill="#2a36b4"/>
<text x="233.2" y="171.9" font-size="8.6" fill="#4654b4" stroke="#4654b4" stroke-width="0.3">2010 Dec 26</text>
<path d="M219.9 179.1l2.2 -3.9h-4.4z" fill="#1fa6d6"/>
<text x="233.2" y="179.9" font-size="8.6" fill="#45b4d8" stroke="#45b4d8" stroke-width="0.3">2011 Jan 02</text>
<path d="M218.1 185a1.8 1.8 0 1 0 3.6 0a1.8 1.8 0 1 0 -3.6 0" fill="none" stroke="#f0cdb5" stroke-width="0.7"/>
<text x="233.2" y="188" font-size="8.6" fill="#e8a878" stroke="#e8a878" stroke-width="0.3">2011 Jan 03</text>
<path d="M218.2 191.3h3.4v3.4h-3.4z" fill="none" stroke="#c0d8c8" stroke-width="0.7"/>
<text x="233.2" y="196" font-size="8.6" fill="#2f8a52" stroke="#2f8a52" stroke-width="0.3">2011 Jan 07</text>
<path d="M219.9 199.1l1.9 1.9l-1.9 1.9l-1.9 -1.9z" fill="none" stroke="#cfc6c6" stroke-width="0.7"/>
<text x="233.2" y="204" font-size="8.6" fill="#7a6a6a" stroke="#7a6a6a" stroke-width="0.3">2011 Jan 08</text>
<path d="M218.1 209h3.6M219.9 207.2v3.6" fill="none" stroke="#bfe8cc" stroke-width="0.7"/>
<text x="233.2" y="212" font-size="8.6" fill="#52c878" stroke="#52c878" stroke-width="0.3">2011 Jan 28</text>
<path d="M45.4 222.6v-3.2M45.4 10.3v3.2M57.8 222.6v-2.2M57.8 10.3v2.2M70.3 222.6v-2.2M70.3 10.3v2.2M82.8 222.6v-2.2M82.8 10.3v2.2M95.2 222.6v-3.2M95.2 10.3v3.2M107.6 222.6v-2.2M107.6 10.3v2.2M120.1 222.6v-2.2M120.1 10.3v2.2M132.5 222.6v-2.2M132.5 10.3v2.2M145 222.6v-3.2M145 10.3v3.2M157.4 222.6v-2.2M157.4 10.3v2.2M169.9 222.6v-2.2M169.9 10.3v2.2M182.3 222.6v-2.2M182.3 10.3v2.2M194.8 222.6v-3.2M194.8 10.3v3.2M207.2 222.6v-2.2M207.2 10.3v2.2M219.7 222.6v-2.2M219.7 10.3v2.2M232.1 222.6v-2.2M232.1 10.3v2.2M244.6 222.6v-3.2M244.6 10.3v3.2M257 222.6v-2.2M257 10.3v2.2M269.5 222.6v-2.2M269.5 10.3v2.2M281.9 222.6v-2.2M281.9 10.3v2.2M294.4 222.6v-3.2M294.4 10.3v3.2M45.4 10.3h3.2M294.4 10.3h-3.2M45.4 20.9h2.2M294.4 20.9h-2.2M45.4 31.5h2.2M294.4 31.5h-2.2M45.4 42.1h2.2M294.4 42.1h-2.2M45.4 52.8h2.2M294.4 52.8h-2.2M45.4 63.4h3.2M294.4 63.4h-3.2M45.4 74h2.2M294.4 74h-2.2M45.4 84.6h2.2M294.4 84.6h-2.2M45.4 95.2h2.2M294.4 95.2h-2.2M45.4 105.8h2.2M294.4 105.8h-2.2M45.4 116.5h3.2M294.4 116.5h-3.2M45.4 127.1h2.2M294.4 127.1h-2.2M45.4 137.7h2.2M294.4 137.7h-2.2M45.4 148.3h2.2M294.4 148.3h-2.2M45.4 158.9h2.2M294.4 158.9h-2.2M45.4 169.5h3.2M294.4 169.5h-3.2M45.4 180.1h2.2M294.4 180.1h-2.2M45.4 190.8h2.2M294.4 190.8h-2.2M45.4 201.4h2.2M294.4 201.4h-2.2M45.4 212h2.2M294.4 212h-2.2M45.4 222.6h3.2M294.4 222.6h-3.2" stroke="#9a9a9a" stroke-width="0.8" fill="none"/>
<rect x="45.4" y="10.3" width="249" height="212.3" fill="none" stroke="#787878" stroke-width="1.25"/>
<text x="45.4" y="237.2" font-size="11" text-anchor="middle" fill="#000" stroke="#000" stroke-width="0.4">0</text>
<text x="95.2" y="237.2" font-size="11" text-anchor="middle" fill="#000" stroke="#000" stroke-width="0.4">0.2</text>
<text x="145" y="237.2" font-size="11" text-anchor="middle" fill="#000" stroke="#000" stroke-width="0.4">0.4</text>
<text x="194.8" y="237.2" font-size="11" text-anchor="middle" fill="#000" stroke="#000" stroke-width="0.4">0.6</text>
<text x="244.6" y="237.2" font-size="11" text-anchor="middle" fill="#000" stroke="#000" stroke-width="0.4">0.8</text>
<text x="294.4" y="237.2" font-size="11" text-anchor="middle" fill="#000" stroke="#000" stroke-width="0.4">1</text>
<text x="39.8" y="14.2" font-size="11" text-anchor="end" fill="#000" stroke="#000" stroke-width="0.4">-0.1</text>
<text x="39.8" y="67.3" font-size="11" text-anchor="end" fill="#000" stroke="#000" stroke-width="0.4">-0.05</text>
<text x="39.8" y="120.3" font-size="11" text-anchor="end" fill="#000" stroke="#000" stroke-width="0.4">0</text>
<text x="39.8" y="173.4" font-size="11" text-anchor="end" fill="#000" stroke="#000" stroke-width="0.4">0.05</text>
<text x="39.8" y="226.5" font-size="11" text-anchor="end" fill="#000" stroke="#000" stroke-width="0.4">0.1</text>
<text x="170" y="256.5" font-size="15" text-anchor="middle" font-weight="bold" fill="#000" stroke="#000" stroke-width="0.3">rotational phase</text>
<text x="12.6" y="116.5" font-size="15" text-anchor="middle" font-weight="bold" fill="#000" stroke="#000" stroke-width="0.3" transform="rotate(-90 12.6 116.5)">relative magnitude</text>
<g clip-path="url(#cTR)">
<path d="M350.3 103.5V129.1M348.7 103.5h3.2M348.7 129.1h3.2M352.7 120.7V133.3M351.1 120.7h3.2M351.1 133.3h3.2M353.3 128.6V142.7M351.7 128.6h3.2M351.7 142.7h3.2M354.4 132.4V148.2M352.8 132.4h3.2M352.8 148.2h3.2M362 110.9V129.9M360.4 110.9h3.2M360.4 129.9h3.2M363.2 119.7V137.6M361.6 119.7h3.2M361.6 137.6h3.2M365.5 125.5V142.5M363.9 125.5h3.2M363.9 142.5h3.2M360.9 130.5V149.4M359.3 130.5h3.2M359.3 149.4h3.2M369 118.4V139.6M367.4 118.4h3.2M367.4 139.6h3.2M369 131.7V148.5M367.4 131.7h3.2M367.4 148.5h3.2M372.6 135.5V152.3M371 135.5h3.2M371 152.3h3.2M370.8 141.1V159.7M369.2 141.1h3.2M369.2 159.7h3.2M376 144.8V159.1M374.4 144.8h3.2M374.4 159.1h3.2M377.2 148.3V163.3M375.6 148.3h3.2M375.6 163.3h3.2M379.6 142.7V159.2M378 142.7h3.2M378 159.2h3.2M381.9 133.1V152.4M380.3 133.1h3.2M380.3 152.4h3.2M384.3 127.1V141.3M382.7 127.1h3.2M382.7 141.3h3.2M383.1 140.8V162.1M381.5 140.8h3.2M381.5 162.1h3.2M379 150.8V169M377.4 150.8h3.2M377.4 169h3.2M387.8 147.2V166.3M386.2 147.2h3.2M386.2 166.3h3.2M391.9 120.6V129.7M390.3 120.6h3.2M390.3 129.7h3.2M390.1 131.2V146M388.5 131.2h3.2M388.5 146h3.2M393.5 122.7V143.1M391.9 122.7h3.2M391.9 143.1h3.2M395.3 132.5V152.7M393.7 132.5h3.2M393.7 152.7h3.2M401.7 130.7V152.6M400.1 130.7h3.2M400.1 152.6h3.2M404 142.6V150.7M402.4 142.6h3.2M402.4 150.7h3.2M412.8 135.1V153.7M411.2 135.1h3.2M411.2 153.7h3.2M413.4 141.1V156.6M411.8 141.1h3.2M411.8 156.6h3.2M411 143.2V166.5M409.4 143.2h3.2M409.4 166.5h3.2M407.5 152V164.5M405.9 152h3.2M405.9 164.5h3.2M414.6 152.8V162.3M413 152.8h3.2M413 162.3h3.2M419.8 153.7V169.5M418.2 153.7h3.2M418.2 169.5h3.2M419.2 163.5V177.2M417.6 163.5h3.2M417.6 177.2h3.2M401.7 148.2V172.6M400.1 148.2h3.2M400.1 172.6h3.2M399.9 165.1V179.2M398.3 165.1h3.2M398.3 179.2h3.2M397 152.7V162.2M395.4 152.7h3.2M395.4 162.2h3.2M418.1 156.6V175.3M416.5 156.6h3.2M416.5 175.3h3.2M577 108.6V120.1M575.4 108.6h3.2M575.4 120.1h3.2M578.9 110.3V125M577.3 110.3h3.2M577.3 125h3.2M580.1 109.2V130.8M578.5 109.2h3.2M578.5 130.8h3.2M582.6 119.5V131.5M581 119.5h3.2M581 131.5h3.2M583.9 112.7V127.6M582.3 112.7h3.2M582.3 127.6h3.2M585.8 118.9V136.3M584.2 118.9h3.2M584.2 136.3h3.2M587 125.4V142M585.4 125.4h3.2M585.4 142h3.2M588.3 129.3V147M586.7 129.3h3.2M586.7 147h3.2M586.4 130.5V151.6M584.8 130.5h3.2M584.8 151.6h3.2M591.4 133.4V149.5M589.8 133.4h3.2M589.8 149.5h3.2M592.7 126.4V139.2M591.1 126.4h3.2M591.1 139.2h3.2M594.6 118.3V132.7M593 118.3h3.2M593 132.7h3.2M595.2 104.9V131.5M593.6 104.9h3.2M593.6 131.5h3.2M579.1 101.1V118.8M577.5 101.1h3.2M577.5 118.8h3.2M581 110.2V120.8M579.4 110.2h3.2M579.4 120.8h3.2" stroke="#f2b68c" stroke-width="0.8" fill="none" opacity="1.0"/>
<path d="M348.2 117.9a2.1 2.1 0 1 0 4.2 0a2.1 2.1 0 1 0 -4.2 0M350.6 127.2a2.1 2.1 0 1 0 4.2 0a2.1 2.1 0 1 0 -4.2 0M351.2 135.4a2.1 2.1 0 1 0 4.2 0a2.1 2.1 0 1 0 -4.2 0M352.3 140a2.1 2.1 0 1 0 4.2 0a2.1 2.1 0 1 0 -4.2 0M359.9 120.8a2.1 2.1 0 1 0 4.2 0a2.1 2.1 0 1 0 -4.2 0M361.1 128.4a2.1 2.1 0 1 0 4.2 0a2.1 2.1 0 1 0 -4.2 0M363.4 134.2a2.1 2.1 0 1 0 4.2 0a2.1 2.1 0 1 0 -4.2 0M358.8 140a2.1 2.1 0 1 0 4.2 0a2.1 2.1 0 1 0 -4.2 0M366.9 129.6a2.1 2.1 0 1 0 4.2 0a2.1 2.1 0 1 0 -4.2 0M366.9 140a2.1 2.1 0 1 0 4.2 0a2.1 2.1 0 1 0 -4.2 0M370.5 143.6a2.1 2.1 0 1 0 4.2 0a2.1 2.1 0 1 0 -4.2 0M368.7 150.6a2.1 2.1 0 1 0 4.2 0a2.1 2.1 0 1 0 -4.2 0M373.9 151.8a2.1 2.1 0 1 0 4.2 0a2.1 2.1 0 1 0 -4.2 0M375.1 156.5a2.1 2.1 0 1 0 4.2 0a2.1 2.1 0 1 0 -4.2 0M377.5 150.6a2.1 2.1 0 1 0 4.2 0a2.1 2.1 0 1 0 -4.2 0M379.8 142.4a2.1 2.1 0 1 0 4.2 0a2.1 2.1 0 1 0 -4.2 0M382.2 134.2a2.1 2.1 0 1 0 4.2 0a2.1 2.1 0 1 0 -4.2 0M381 151.8a2.1 2.1 0 1 0 4.2 0a2.1 2.1 0 1 0 -4.2 0M376.9 160a2.1 2.1 0 1 0 4.2 0a2.1 2.1 0 1 0 -4.2 0M385.7 157.6a2.1 2.1 0 1 0 4.2 0a2.1 2.1 0 1 0 -4.2 0M389.8 124.9a2.1 2.1 0 1 0 4.2 0a2.1 2.1 0 1 0 -4.2 0M388 137.7a2.1 2.1 0 1 0 4.2 0a2.1 2.1 0 1 0 -4.2 0M391.4 131.7a2.1 2.1 0 1 0 4.2 0a2.1 2.1 0 1 0 -4.2 0M393.2 142.2a2.1 2.1 0 1 0 4.2 0a2.1 2.1 0 1 0 -4.2 0M399.6 141a2.1 2.1 0 1 0 4.2 0a2.1 2.1 0 1 0 -4.2 0M401.9 146.9a2.1 2.1 0 1 0 4.2 0a2.1 2.1 0 1 0 -4.2 0M410.7 144.6a2.1 2.1 0 1 0 4.2 0a2.1 2.1 0 1 0 -4.2 0M411.3 149.2a2.1 2.1 0 1 0 4.2 0a2.1 2.1 0 1 0 -4.2 0M408.9 155.1a2.1 2.1 0 1 0 4.2 0a2.1 2.1 0 1 0 -4.2 0M405.4 158.6a2.1 2.1 0 1 0 4.2 0a2.1 2.1 0 1 0 -4.2 0M412.5 157.4a2.1 2.1 0 1 0 4.2 0a2.1 2.1 0 1 0 -4.2 0M417.7 162.1a2.1 2.1 0 1 0 4.2 0a2.1 2.1 0 1 0 -4.2 0M417.1 170.3a2.1 2.1 0 1 0 4.2 0a2.1 2.1 0 1 0 -4.2 0M399.6 160.9a2.1 2.1 0 1 0 4.2 0a2.1 2.1 0 1 0 -4.2 0M397.8 172.6a2.1 2.1 0 1 0 4.2 0a2.1 2.1 0 1 0 -4.2 0M394.9 157.4a2.1 2.1 0 1 0 4.2 0a2.1 2.1 0 1 0 -4.2 0M416 165.6a2.1 2.1 0 1 0 4.2 0a2.1 2.1 0 1 0 -4.2 0M574.9 113.9a2.1 2.1 0 1 0 4.2 0a2.1 2.1 0 1 0 -4.2 0M576.8 118.3a2.1 2.1 0 1 0 4.2 0a2.1 2.1 0 1 0 -4.2 0M578 121.4a2.1 2.1 0 1 0 4.2 0a2.1 2.1 0 1 0 -4.2 0M580.5 125.2a2.1 2.1 0 1 0 4.2 0a2.1 2.1 0 1 0 -4.2 0M581.8 120.2a2.1 2.1 0 1 0 4.2 0a2.1 2.1 0 1 0 -4.2 0M583.7 127.1a2.1 2.1 0 1 0 4.2 0a2.1 2.1 0 1 0 -4.2 0M584.9 132.8a2.1 2.1 0 1 0 4.2 0a2.1 2.1 0 1 0 -4.2 0M586.2 137.8a2.1 2.1 0 1 0 4.2 0a2.1 2.1 0 1 0 -4.2 0M584.3 141.6a2.1 2.1 0 1 0 4.2 0a2.1 2.1 0 1 0 -4.2 0M589.3 141.6a2.1 2.1 0 1 0 4.2 0a2.1 2.1 0 1 0 -4.2 0M590.6 132.8a2.1 2.1 0 1 0 4.2 0a2.1 2.1 0 1 0 -4.2 0M592.5 124.6a2.1 2.1 0 1 0 4.2 0a2.1 2.1 0 1 0 -4.2 0M593.1 118.9a2.1 2.1 0 1 0 4.2 0a2.1 2.1 0 1 0 -4.2 0M577 110.4a2.1 2.1 0 1 0 4.2 0a2.1 2.1 0 1 0 -4.2 0M578.9 115.5a2.1 2.1 0 1 0 4.2 0a2.1 2.1 0 1 0 -4.2 0" stroke="#ee9e68" stroke-width="0.85" fill="none" opacity="1.0"/>
<path d="M357.4 131V142.3M355.9 131h3M355.9 142.3h3M360.9 125.7V151.2M359.4 125.7h3M359.4 151.2h3M363.2 135.4V144.7M361.7 135.4h3M361.7 144.7h3M365.5 136.7V150.8M364 136.7h3M364 150.8h3M359.7 136.4V149.9M358.2 136.4h3M358.2 149.9h3M358.5 137V158.4M357 137h3M357 158.4h3M362 138.7V149.9M360.5 138.7h3M360.5 149.9h3M386.6 137.5V150.9M385.1 137.5h3M385.1 150.9h3M388.9 132.4V152.6M387.4 132.4h3M387.4 152.6h3M390.1 140.4V154M388.6 140.4h3M388.6 154h3M387.8 143.2V162.3M386.3 143.2h3M386.3 162.3h3M390.7 140.4V161.7M389.2 140.4h3M389.2 161.7h3M391.2 132.8V148.6M389.7 132.8h3M389.7 148.6h3M391.2 143.5V160.5M389.7 143.5h3M389.7 160.5h3M396.4 144.3V160.5M394.9 144.3h3M394.9 160.5h3M400.5 150.7V164.1M399 150.7h3M399 164.1h3M405.8 147.7V157M404.3 147.7h3M404.3 157h3M398.2 155V172.3M396.7 155h3M396.7 172.3h3M404.6 155.6V166.2M403.1 155.6h3M403.1 166.2h3M409.3 159.6V172.8M407.8 159.6h3M407.8 172.8h3M407.5 167.6V179.8M406 167.6h3M406 179.8h3M433.9 153.5V170.8M432.4 153.5h3M432.4 170.8h3M434.7 156V168.3M433.2 156h3M433.2 168.3h3M437.4 149V169M435.9 149h3M435.9 169h3M439 154.6V179M437.5 154.6h3M437.5 179h3M441.2 158.3V173.2M439.7 158.3h3M439.7 173.2h3M442.8 159.4V179.7M441.3 159.4h3M441.3 179.7h3M436.9 167.9V183.3M435.4 167.9h3M435.4 183.3h3M443.9 171.1V184.4M442.4 171.1h3M442.4 184.4h3M446 169.6V186.3M444.5 169.6h3M444.5 186.3h3M446 164.7V177.1M444.5 164.7h3M444.5 177.1h3M449.3 158.2V173.8M447.8 158.2h3M447.8 173.8h3M454.1 148.8V167.4M452.6 148.8h3M452.6 167.4h3M449.8 147V157.3M448.3 147h3M448.3 157.3h3M455.2 146.6V155.4M453.7 146.6h3M453.7 155.4h3M456.8 147.1V155.8M455.3 147.1h3M455.3 155.8h3M460.6 132.1V147.8M459.1 132.1h3M459.1 147.8h3M462.2 134.3V144.9M460.7 134.3h3M460.7 144.9h3M453.6 136.6V159.3M452.1 136.6h3M452.1 159.3h3M460.5 123.8V136.6M459 123.8h3M459 136.6h3M461 126.4V140.5M459.5 126.4h3M459.5 140.5h3M461.6 129.6V143.1M460.1 129.6h3M460.1 143.1h3" stroke="#5c68cc" stroke-width="0.8" fill="none" opacity="1.0"/>
<path d="M357.4 134l2.6 4.5h-5.2zM360.9 135.1l2.6 4.5h-5.2zM363.2 137.4l2.6 4.5h-5.2zM365.5 141l2.6 4.5h-5.2zM359.7 141l2.6 4.5h-5.2zM358.5 145.7l2.6 4.5h-5.2zM362 142.2l2.6 4.5h-5.2zM386.6 142.2l2.6 4.5h-5.2zM388.9 138.7l2.6 4.5h-5.2zM390.1 144.5l2.6 4.5h-5.2zM387.8 149.2l2.6 4.5h-5.2zM390.7 148l2.6 4.5h-5.2zM391.2 138.4l2.6 4.5h-5.2zM391.2 148.4l2.6 4.5h-5.2zM396.4 149l2.6 4.5h-5.2zM400.5 154.2l2.6 4.5h-5.2zM405.8 149.6l2.6 4.5h-5.2zM398.2 161.3l2.6 4.5h-5.2zM404.6 158.3l2.6 4.5h-5.2zM409.3 164.2l2.6 4.5h-5.2zM407.5 171.2l2.6 4.5h-5.2zM433.9 160.1l2.6 4.5h-5.2zM434.7 159.4l2.6 4.5h-5.2zM437.4 155.6l2.6 4.5h-5.2zM439 163.7l2.6 4.5h-5.2zM441.2 163.1l2.6 4.5h-5.2zM442.8 166.9l2.6 4.5h-5.2zM436.9 173.4l2.6 4.5h-5.2zM443.9 175l2.6 4.5h-5.2zM446 175.6l2.6 4.5h-5.2zM446 168l2.6 4.5h-5.2zM449.3 163.7l2.6 4.5h-5.2zM454.1 156.1l2.6 4.5h-5.2zM449.8 149.7l2.6 4.5h-5.2zM455.2 148.6l2.6 4.5h-5.2zM456.8 149.1l2.6 4.5h-5.2zM460.6 137.8l2.6 4.5h-5.2zM462.2 136.7l2.6 4.5h-5.2zM453.6 145.4l2.6 4.5h-5.2zM460.5 127.7l2.6 4.5h-5.2zM461 130.9l2.6 4.5h-5.2zM461.6 134.2l2.6 4.5h-5.2z" fill="#2f3cc0" opacity="1.0"/>
<path d="M427.4 154.3V173.8M425.8 154.3h3.2M425.8 173.8h3.2M429.8 155.5V173.2M428.2 155.5h3.2M428.2 173.2h3.2M430.9 164.5V179.9M429.3 164.5h3.2M429.3 179.9h3.2M433.9 166.5V177.5M432.3 166.5h3.2M432.3 177.5h3.2M433.3 171.8V187.5M431.7 171.8h3.2M431.7 187.5h3.2M435.2 159V178.5M433.6 159h3.2M433.6 178.5h3.2M433.6 170.1V187.8M432 170.1h3.2M432 187.8h3.2M439 171.4V187.4M437.4 171.4h3.2M437.4 187.4h3.2M437.9 180.3V192.3M436.3 180.3h3.2M436.3 192.3h3.2M446.6 147.8V156.9M445 147.8h3.2M445 156.9h3.2M445 148.7V167.7M443.4 148.7h3.2M443.4 167.7h3.2M447.1 148V170.4M445.5 148h3.2M445.5 170.4h3.2M455.2 138.2V159M453.6 138.2h3.2M453.6 159h3.2M457.3 119.1V134.8M455.7 119.1h3.2M455.7 134.8h3.2M464.3 109.7V120.6M462.7 109.7h3.2M462.7 120.6h3.2M468.6 103.1V112.3M467 103.1h3.2M467 112.3h3.2M470.7 95V110.2M469.1 95h3.2M469.1 110.2h3.2M473.4 95.6V108.9M471.8 95.6h3.2M471.8 108.9h3.2M475.6 104.2V121.6M474 104.2h3.2M474 121.6h3.2M478.3 105.4V121.8M476.7 105.4h3.2M476.7 121.8h3.2M459.4 118.1V135.6M457.8 118.1h3.2M457.8 135.6h3.2M508.2 94.2V104.7M506.6 94.2h3.2M506.6 104.7h3.2M512.5 98.1V106.4M510.9 98.1h3.2M510.9 106.4h3.2M505 100.7V114.7M503.4 100.7h3.2M503.4 114.7h3.2M502.8 100.1V113.5M501.2 100.1h3.2M501.2 113.5h3.2M479.6 108.3V120.5M478 108.3h3.2M478 120.5h3.2M486.6 92V110.8M485 92h3.2M485 110.8h3.2M493.1 115.4V133.3M491.5 115.4h3.2M491.5 133.3h3.2M519.5 103V111.8M517.9 103h3.2M517.9 111.8h3.2M521.1 101.4V118.4M519.5 101.4h3.2M519.5 118.4h3.2M517.2 98.2V116.2M515.6 98.2h3.2M515.6 116.2h3.2M520.4 102.4V111.9M518.8 102.4h3.2M518.8 111.9h3.2M526.9 100.1V123.3M525.3 100.1h3.2M525.3 123.3h3.2M525.8 100.3V112.8M524.2 100.3h3.2M524.2 112.8h3.2M534.4 105.6V113.4M532.8 105.6h3.2M532.8 113.4h3.2M532.3 109V124.1M530.7 109h3.2M530.7 124.1h3.2M537.7 108.8V127.3M536.1 108.8h3.2M536.1 127.3h3.2M542 93.7V105.3M540.4 93.7h3.2M540.4 105.3h3.2M551.7 97V105.6M550.1 97h3.2M550.1 105.6h3.2M549.5 109V117.8M547.9 109h3.2M547.9 117.8h3.2M545.2 119.9V130.6M543.6 119.9h3.2M543.6 130.6h3.2M553.8 116.2V127.4M552.2 116.2h3.2M552.2 127.4h3.2M557.1 100.3V116.3M555.5 100.3h3.2M555.5 116.3h3.2M556 122.9V133.6M554.4 122.9h3.2M554.4 133.6h3.2M552 111.6V120.7M550.4 111.6h3.2M550.4 120.7h3.2M558 103.9V121M556.4 103.9h3.2M556.4 121h3.2" stroke="#e26a62" stroke-width="0.8" fill="none" opacity="1.0"/>
<path d="M425.1 161h4.6v4.6h-4.6zM427.5 161.6h4.6v4.6h-4.6zM428.6 170.3h4.6v4.6h-4.6zM431.6 169.2h4.6v4.6h-4.6zM431 177.3h4.6v4.6h-4.6zM432.9 167.2h4.6v4.6h-4.6zM431.3 176.9h4.6v4.6h-4.6zM436.7 178h4.6v4.6h-4.6zM435.6 184.5h4.6v4.6h-4.6zM444.3 150h4.6v4.6h-4.6zM442.7 155.9h4.6v4.6h-4.6zM444.8 157h4.6v4.6h-4.6zM452.9 146.7h4.6v4.6h-4.6zM455 124.2h4.6v4.6h-4.6zM462 112.4h4.6v4.6h-4.6zM466.3 105.9h4.6v4.6h-4.6zM468.4 100.5h4.6v4.6h-4.6zM471.1 100.5h4.6v4.6h-4.6zM473.3 110.7h4.6v4.6h-4.6zM476 111.3h4.6v4.6h-4.6zM457.1 123.7h4.6v4.6h-4.6zM505.9 97h4.6v4.6h-4.6zM510.2 99.7h4.6v4.6h-4.6zM502.7 105.1h4.6v4.6h-4.6zM500.5 105.1h4.6v4.6h-4.6zM477.3 112.1h4.6v4.6h-4.6zM484.3 98.6h4.6v4.6h-4.6zM490.8 122.3h4.6v4.6h-4.6zM517.2 105.1h4.6v4.6h-4.6zM518.8 107.2h4.6v4.6h-4.6zM514.9 104.4h4.6v4.6h-4.6zM518.1 104.9h4.6v4.6h-4.6zM524.6 108.7h4.6v4.6h-4.6zM523.5 104.4h4.6v4.6h-4.6zM532.1 107.6h4.6v4.6h-4.6zM530 114.1h4.6v4.6h-4.6zM535.4 115.2h4.6v4.6h-4.6zM539.7 97.4h4.6v4.6h-4.6zM549.4 99h4.6v4.6h-4.6zM547.2 110.8h4.6v4.6h-4.6zM542.9 123.3h4.6v4.6h-4.6zM551.5 120h4.6v4.6h-4.6zM554.8 106.5h4.6v4.6h-4.6zM553.7 125.7h4.6v4.6h-4.6zM549.7 113.7h4.6v4.6h-4.6zM555.7 109.7h4.6v4.6h-4.6z" fill="#e0282a" opacity="1.0"/>
<path d="M481.5 88.9V108.6M480 88.9h3M480 108.6h3M481 91.5V117M479.5 91.5h3M479.5 117h3M483.1 100.5V117M481.6 100.5h3M481.6 117h3M482.3 99.4V114.9M480.8 99.4h3M480.8 114.9h3M485.6 96.4V117.9M484.1 96.4h3M484.1 117.9h3M489.9 104V117.7M488.4 104h3M488.4 117.7h3M494.2 99.9V108.2M492.7 99.9h3M492.7 108.2h3M493.6 105.2V121.1M492.1 105.2h3M492.1 121.1h3M498.5 113.7V124.4M497 113.7h3M497 124.4h3M499.6 110.9V129.2M498.1 110.9h3M498.1 129.2h3M502.8 104.6V122.4M501.3 104.6h3M501.3 122.4h3M512.5 104.7V120.6M511 104.7h3M511 120.6h3M514.7 104.3V128.3M513.2 104.3h3M513.2 128.3h3M520.6 94.9V106.6M519.1 94.9h3M519.1 106.6h3M518.5 104.3V118.9M517 104.3h3M517 118.9h3M531.2 82.1V96.5M529.7 82.1h3M529.7 96.5h3M532.3 84.5V105M530.8 84.5h3M530.8 105h3M529.6 86.2V107.9M528.1 86.2h3M528.1 107.9h3M534.4 92.4V104.3M532.9 92.4h3M532.9 104.3h3M536.6 97V105.6M535.1 97h3M535.1 105.6h3M539.3 89.1V105M537.8 89.1h3M537.8 105h3M542 94.5V106.7M540.5 94.5h3M540.5 106.7h3M536 98.2V111.6M534.5 98.2h3M534.5 111.6h3M539.8 101.9V118.1M538.3 101.9h3M538.3 118.1h3M549.5 98.2V118M548 98.2h3M548 118h3M548.4 102.7V120.9M546.9 102.7h3M546.9 120.9h3M522.6 94.1V107.9M521.1 94.1h3M521.1 107.9h3M521.5 94.6V116.2M520 94.6h3M520 116.2h3M576.6 57.7V79.7M575.1 57.7h3M575.1 79.7h3M579.1 72.1V82.3M577.6 72.1h3M577.6 82.3h3M574 77.4V95.9M572.5 77.4h3M572.5 95.9h3M570.9 84V93.6M569.4 84h3M569.4 93.6h3M581 78.9V94.6M579.5 78.9h3M579.5 94.6h3M565.2 95V111.8M563.7 95h3M563.7 111.8h3M564 100.5V114.9M562.5 100.5h3M562.5 114.9h3M584.7 96.4V111.5M583.2 96.4h3M583.2 111.5h3M583.5 97.9V117.9M582 97.9h3M582 117.9h3M553.3 99.1V112.1M551.8 99.1h3M551.8 112.1h3M552 99.3V115.6M550.5 99.3h3M550.5 115.6h3M509 109.2V122.4M507.5 109.2h3M507.5 122.4h3M527 96.5V112M525.5 96.5h3M525.5 112h3" stroke="#c488e0" stroke-width="0.8" fill="none" opacity="1.0"/>
<path d="M481.5 97.1l3 3l-3 3l-3 -3zM481 101.4l3 3l-3 3l-3 -3zM483.1 105.7l3 3l-3 3l-3 -3zM482.3 103.8l3 3l-3 3l-3 -3zM485.6 105.4l3 3l-3 3l-3 -3zM489.9 107.6l3 3l-3 3l-3 -3zM494.2 101.1l3 3l-3 3l-3 -3zM493.6 109.8l3 3l-3 3l-3 -3zM498.5 116.2l3 3l-3 3l-3 -3zM499.6 117.3l3 3l-3 3l-3 -3zM502.8 110.8l3 3l-3 3l-3 -3zM512.5 109.8l3 3l-3 3l-3 -3zM514.7 113l3 3l-3 3l-3 -3zM520.6 97.9l3 3l-3 3l-3 -3zM518.5 109.2l3 3l-3 3l-3 -3zM531.2 87l3 3l-3 3l-3 -3zM532.3 92.4l3 3l-3 3l-3 -3zM529.6 94l3 3l-3 3l-3 -3zM534.4 96.1l3 3l-3 3l-3 -3zM536.6 98.3l3 3l-3 3l-3 -3zM539.3 94l3 3l-3 3l-3 -3zM542 98.3l3 3l-3 3l-3 -3zM536 102.6l3 3l-3 3l-3 -3zM539.8 106.9l3 3l-3 3l-3 -3zM549.5 105.8l3 3l-3 3l-3 -3zM548.4 108l3 3l-3 3l-3 -3zM522.6 98.3l3 3l-3 3l-3 -3zM521.5 102.6l3 3l-3 3l-3 -3zM576.6 65.9l3 3l-3 3l-3 -3zM579.1 74l3 3l-3 3l-3 -3zM574 83.5l3 3l-3 3l-3 -3zM570.9 86l3 3l-3 3l-3 -3zM581 83.5l3 3l-3 3l-3 -3zM565.2 100.5l3 3l-3 3l-3 -3zM564 104.9l3 3l-3 3l-3 -3zM584.7 101.1l3 3l-3 3l-3 -3zM583.5 103.6l3 3l-3 3l-3 -3zM553.3 102.4l3 3l-3 3l-3 -3zM552 104.9l3 3l-3 3l-3 -3zM509 113l3 3l-3 3l-3 -3zM527 101l3 3l-3 3l-3 -3z" fill="#a548d6" opacity="1.0"/>
<path d="M486.6 83.6V96.4M485.1 83.6h3M485.1 96.4h3M491.5 79.3V103.2M490 79.3h3M490 103.2h3M488.2 90.1V103.1M486.7 90.1h3M486.7 103.1h3M494.7 89.2V101.6M493.2 89.2h3M493.2 101.6h3M496.9 92.1V104.3M495.4 92.1h3M495.4 104.3h3M495.3 92.3V108.7M493.8 92.3h3M493.8 108.7h3M500.7 92.7V107.4M499.2 92.7h3M499.2 107.4h3M502.8 94.9V105.4M501.3 94.9h3M501.3 105.4h3M499.6 95.4V115.5M498.1 95.4h3M498.1 115.5h3M506 102.3V117.5M504.5 102.3h3M504.5 117.5h3M505.5 112.3V126.9M504 112.3h3M504 126.9h3M510.4 104.8V121.2M508.9 104.8h3M508.9 121.2h3M517.9 87.2V102.6M516.4 87.2h3M516.4 102.6h3M520.1 86V105M518.6 86h3M518.6 105h3M519 92.1V103.9M517.5 92.1h3M517.5 103.9h3M515.2 104.1V124.2M513.7 104.1h3M513.7 124.2h3M517.7 86.2V105.2M516.2 86.2h3M516.2 105.2h3M519.9 86.4V106.2M518.4 86.4h3M518.4 106.2h3M518.2 94.4V109.9M516.7 94.4h3M516.7 109.9h3M516.1 102.1V124.6M514.6 102.1h3M514.6 124.6h3M543 108.3V124.4M541.5 108.3h3M541.5 124.4h3M545.7 105.3V121M544.2 105.3h3M544.2 121h3M548.4 94.8V111M546.9 94.8h3M546.9 111h3M557.1 79.2V101.1M555.6 79.2h3M555.6 101.1h3M558.1 91.1V105M556.6 91.1h3M556.6 105h3M555.5 92.9V110.7M554 92.9h3M554 110.7h3M570.9 62.9V78.8M569.4 62.9h3M569.4 78.8h3M574.7 58.3V75.5M573.2 58.3h3M573.2 75.5h3M581.6 62.3V75.9M580.1 62.3h3M580.1 75.9h3M582.2 66.4V82.7M580.7 66.4h3M580.7 82.7h3M589.8 74.7V91M588.3 74.7h3M588.3 91h3M563.3 74.2V96M561.8 74.2h3M561.8 96h3M566.5 74.2V94.3M565 74.2h3M565 94.3h3M559.6 80.5V97.9M558.1 80.5h3M558.1 97.9h3M577.2 69V82.4M575.7 69h3M575.7 82.4h3M584.7 86.4V98.1M583.2 86.4h3M583.2 98.1h3M586 85.1V110M584.5 85.1h3M584.5 110h3M558.9 86V111.9M557.4 86h3M557.4 111.9h3M555.8 97.3V108.9M554.3 97.3h3M554.3 108.9h3M568.4 81.7V94M566.9 81.7h3M566.9 94h3M528 100.4V116.6M526.5 100.4h3M526.5 116.6h3M533 105.8V117.2M531.5 105.8h3M531.5 117.2h3" stroke="#6cc4e2" stroke-width="0.8" fill="none" opacity="1.0"/>
<path d="M486.6 92.3l2.7 -4.7h-5.4zM491.5 92.8l2.7 -4.7h-5.4zM488.2 99.3l2.7 -4.7h-5.4zM494.7 98.2l2.7 -4.7h-5.4zM496.9 100.9l2.7 -4.7h-5.4zM495.3 103.6l2.7 -4.7h-5.4zM500.7 103.6l2.7 -4.7h-5.4zM502.8 102.5l2.7 -4.7h-5.4zM499.6 107.9l2.7 -4.7h-5.4zM506 113.3l2.7 -4.7h-5.4zM505.5 123l2.7 -4.7h-5.4zM510.4 115.5l2.7 -4.7h-5.4zM517.9 97.7l2.7 -4.7h-5.4zM520.1 98.2l2.7 -4.7h-5.4zM519 101.4l2.7 -4.7h-5.4zM515.2 116l2.7 -4.7h-5.4zM517.7 98.1l2.7 -4.7h-5.4zM519.9 98.6l2.7 -4.7h-5.4zM518.2 104l2.7 -4.7h-5.4zM516.1 115.8l2.7 -4.7h-5.4zM543 119.1l2.7 -4.7h-5.4zM545.7 115.8l2.7 -4.7h-5.4zM548.4 106.1l2.7 -4.7h-5.4zM557.1 92.1l2.7 -4.7h-5.4zM558.1 100.7l2.7 -4.7h-5.4zM555.5 105.1l2.7 -4.7h-5.4zM570.9 73.4l2.7 -4.7h-5.4zM574.7 69l2.7 -4.7h-5.4zM581.6 71.6l2.7 -4.7h-5.4zM582.2 77.9l2.7 -4.7h-5.4zM589.8 85.4l2.7 -4.7h-5.4zM563.3 89.2l2.7 -4.7h-5.4zM566.5 87.9l2.7 -4.7h-5.4zM559.6 91.7l2.7 -4.7h-5.4zM577.2 78.5l2.7 -4.7h-5.4zM584.7 95.5l2.7 -4.7h-5.4zM586 100.5l2.7 -4.7h-5.4zM558.9 100.5l2.7 -4.7h-5.4zM555.8 105.6l2.7 -4.7h-5.4zM568.4 90.4l2.7 -4.7h-5.4zM528 110.7l2.7 -4.7h-5.4zM533 114.7l2.7 -4.7h-5.4z" fill="#25aad8" opacity="1.0"/>
<path d="M352.3 83.2V160M350.7 83.2h3.2M350.7 160h3.2" stroke="#555" stroke-width="1.1" fill="none"/>
<path d="M358.5 110V133" stroke="#9a9a9a" stroke-width="2.6" fill="none"/>
<path d="M358.3 88.9V140M356.7 88.9h3.2" stroke="#2a2a2a" stroke-width="1.2" fill="none"/>
<path d="M359.1 121.7V145.7M357.5 121.7h3.2M357.5 145.7h3.2M358 116V136M356.4 116h3.2M356.4 136h3.2M352.3 121.3V121.3M350.7 121.3h3.2M350.7 121.3h3.2M357.9 123.7V123.7M356.3 123.7h3.2M356.3 123.7h3.2M553.3 75.2V98M551.7 75.2h3.2M551.7 98h3.2M552.8 81.5V109.2M551.2 81.5h3.2M551.2 109.2h3.2M547.4 111.8V130.1M545.8 111.8h3.2M545.8 130.1h3.2M544.1 94.1V136.9M542.5 94.1h3.2M542.5 136.9h3.2M560.8 66.8V90.1M559.2 66.8h3.2M559.2 90.1h3.2M564.6 68.6V91.2M563 68.6h3.2M563 91.2h3.2M569.6 63.3V82.9M568 63.3h3.2M568 82.9h3.2M568.4 66.5V97.5M566.8 66.5h3.2M566.8 97.5h3.2M572.8 84.2V102.2M571.2 84.2h3.2M571.2 102.2h3.2M574 83.9V110.6M572.4 83.9h3.2M572.4 110.6h3.2M571.5 92.6V110.3M569.9 92.6h3.2M569.9 110.3h3.2M576.6 89.9V111.8M575 89.9h3.2M575 111.8h3.2M579.1 77.7V109M577.5 77.7h3.2M577.5 109h3.2M581 69V97.4M579.4 69h3.2M579.4 97.4h3.2M588.5 96.4V120M586.9 96.4h3.2M586.9 120h3.2M591 94.2V123M589.4 94.2h3.2M589.4 123h3.2M593.6 100.8V122.4M592 100.8h3.2M592 122.4h3.2M553.9 85.2V107.3M552.3 85.2h3.2M552.3 107.3h3.2M571.9 87.5V111.8M570.3 87.5h3.2M570.3 111.8h3.2M577 96.4V103.4M575.4 96.4h3.2M575.4 103.4h3.2M589.6 91.6V129.5M588 91.6h3.2M588 129.5h3.2M592.1 92V125.5M590.5 92h3.2M590.5 125.5h3.2M594.6 97.3V128.7M593 97.3h3.2M593 128.7h3.2" stroke="#383838" stroke-width="0.8" fill="none" opacity="1.0"/>
<path d="M359.1 131.2l2.5 2.5l-2.5 2.5l-2.5 -2.5zM358 123.5l2.5 2.5l-2.5 2.5l-2.5 -2.5zM352.3 118.8l2.5 2.5l-2.5 2.5l-2.5 -2.5zM357.9 121.2l2.5 2.5l-2.5 2.5l-2.5 -2.5zM553.3 84.2l2.5 2.5l-2.5 2.5l-2.5 -2.5zM552.8 94l2.5 2.5l-2.5 2.5l-2.5 -2.5zM547.4 118.2l2.5 2.5l-2.5 2.5l-2.5 -2.5zM544.1 111.8l2.5 2.5l-2.5 2.5l-2.5 -2.5zM560.8 75.8l2.5 2.5l-2.5 2.5l-2.5 -2.5zM564.6 79l2.5 2.5l-2.5 2.5l-2.5 -2.5zM569.6 70.8l2.5 2.5l-2.5 2.5l-2.5 -2.5zM568.4 79.6l2.5 2.5l-2.5 2.5l-2.5 -2.5zM572.8 89.8l2.5 2.5l-2.5 2.5l-2.5 -2.5zM574 94.1l2.5 2.5l-2.5 2.5l-2.5 -2.5zM571.5 98.5l2.5 2.5l-2.5 2.5l-2.5 -2.5zM576.6 99.1l2.5 2.5l-2.5 2.5l-2.5 -2.5zM579.1 90.3l2.5 2.5l-2.5 2.5l-2.5 -2.5zM581 80.8l2.5 2.5l-2.5 2.5l-2.5 -2.5zM588.5 105.5l2.5 2.5l-2.5 2.5l-2.5 -2.5zM591 106.8l2.5 2.5l-2.5 2.5l-2.5 -2.5zM593.6 109.2l2.5 2.5l-2.5 2.5l-2.5 -2.5zM553.9 94.1l2.5 2.5l-2.5 2.5l-2.5 -2.5zM571.9 97.5l2.5 2.5l-2.5 2.5l-2.5 -2.5zM577 97.5l2.5 2.5l-2.5 2.5l-2.5 -2.5zM589.6 106.5l2.5 2.5l-2.5 2.5l-2.5 -2.5zM592.1 105.8l2.5 2.5l-2.5 2.5l-2.5 -2.5zM594.6 112l2.5 2.5l-2.5 2.5l-2.5 -2.5z" fill="#080808" opacity="1.0"/>
</g>
<path d="M524 157.6l2.6 2.6l-2.6 2.6l-2.6 -2.6z" fill="#080808"/>
<text x="537" y="163.3" font-size="8.85" fill="#282828" stroke="#282828" stroke-width="0.3">2006 Jan 10</text>
<path d="M521.9 167.4h4.2v4.2h-4.2z" fill="#e0282a"/>
<text x="537" y="172.6" font-size="8.85" fill="#d86a66" stroke="#d86a66" stroke-width="0.3">2006 Jan 13</text>
<path d="M524 175.9l2.9 2.9l-2.9 2.9l-2.9 -2.9z" fill="#a548d6"/>
<text x="537" y="181.9" font-size="8.85" fill="#b47cd6" stroke="#b47cd6" stroke-width="0.3">2006 Jan 21</text>
<path d="M524 185.6l2.5 4.4h-5z" fill="#2f3cc0"/>
<text x="537" y="191.2" font-size="8.85" fill="#4650a6" stroke="#4650a6" stroke-width="0.3">2006 Jan 22</text>
<path d="M524 199.9l2.5 -4.4h-5z" fill="#25aad8"/>
<text x="537" y="200.5" font-size="8.85" fill="#4cb6d6" stroke="#4cb6d6" stroke-width="0.3">2006 Jan 23</text>
<path d="M521.9 206.7a2.1 2.1 0 1 0 4.2 0a2.1 2.1 0 1 0 -4.2 0" fill="none" stroke="#e8a878" stroke-width="0.8"/>
<text x="537" y="209.8" font-size="8.85" fill="#e2a47c" stroke="#e2a47c" stroke-width="0.3">2006 Jan 24</text>
<path d="M349.6 222.9v-3.2M349.6 9.2v3.2M362 222.9v-2.2M362 9.2v2.2M374.4 222.9v-2.2M374.4 9.2v2.2M386.8 222.9v-2.2M386.8 9.2v2.2M399.2 222.9v-3.2M399.2 9.2v3.2M411.6 222.9v-2.2M411.6 9.2v2.2M424 222.9v-2.2M424 9.2v2.2M436.4 222.9v-2.2M436.4 9.2v2.2M448.8 222.9v-3.2M448.8 9.2v3.2M461.2 222.9v-2.2M461.2 9.2v2.2M473.6 222.9v-2.2M473.6 9.2v2.2M486 222.9v-2.2M486 9.2v2.2M498.4 222.9v-3.2M498.4 9.2v3.2M510.8 222.9v-2.2M510.8 9.2v2.2M523.2 222.9v-2.2M523.2 9.2v2.2M535.6 222.9v-2.2M535.6 9.2v2.2M548 222.9v-3.2M548 9.2v3.2M560.4 222.9v-2.2M560.4 9.2v2.2M572.8 222.9v-2.2M572.8 9.2v2.2M585.2 222.9v-2.2M585.2 9.2v2.2M597.6 222.9v-3.2M597.6 9.2v3.2M349.6 9.2h3.2M597.6 9.2h-3.2M349.6 19.9h2.2M597.6 19.9h-2.2M349.6 30.6h2.2M597.6 30.6h-2.2M349.6 41.3h2.2M597.6 41.3h-2.2M349.6 51.9h2.2M597.6 51.9h-2.2M349.6 62.6h3.2M597.6 62.6h-3.2M349.6 73.3h2.2M597.6 73.3h-2.2M349.6 84h2.2M597.6 84h-2.2M349.6 94.7h2.2M597.6 94.7h-2.2M349.6 105.4h2.2M597.6 105.4h-2.2M349.6 116h3.2M597.6 116h-3.2M349.6 126.7h2.2M597.6 126.7h-2.2M349.6 137.4h2.2M597.6 137.4h-2.2M349.6 148.1h2.2M597.6 148.1h-2.2M349.6 158.8h2.2M597.6 158.8h-2.2M349.6 169.5h3.2M597.6 169.5h-3.2M349.6 180.2h2.2M597.6 180.2h-2.2M349.6 190.8h2.2M597.6 190.8h-2.2M349.6 201.5h2.2M597.6 201.5h-2.2M349.6 212.2h2.2M597.6 212.2h-2.2M349.6 222.9h3.2M597.6 222.9h-3.2" stroke="#9a9a9a" stroke-width="0.8" fill="none"/>
<rect x="349.6" y="9.2" width="248" height="213.7" fill="none" stroke="#787878" stroke-width="1.25"/>
<text x="349.6" y="237.2" font-size="11" text-anchor="middle" fill="#000" stroke="#000" stroke-width="0.4">0</text>
<text x="399.2" y="237.2" font-size="11" text-anchor="middle" fill="#000" stroke="#000" stroke-width="0.4">0.2</text>
<text x="448.8" y="237.2" font-size="11" text-anchor="middle" fill="#000" stroke="#000" stroke-width="0.4">0.4</text>
<text x="498.4" y="237.2" font-size="11" text-anchor="middle" fill="#000" stroke="#000" stroke-width="0.4">0.6</text>
<text x="548" y="237.2" font-size="11" text-anchor="middle" fill="#000" stroke="#000" stroke-width="0.4">0.8</text>
<text x="597.6" y="237.2" font-size="11" text-anchor="middle" fill="#000" stroke="#000" stroke-width="0.4">1</text>
<text x="343.2" y="13.1" font-size="11" text-anchor="end" fill="#000" stroke="#000" stroke-width="0.4">-0.1</text>
<text x="343.2" y="66.5" font-size="11" text-anchor="end" fill="#000" stroke="#000" stroke-width="0.4">-0.05</text>
<text x="343.2" y="120" font-size="11" text-anchor="end" fill="#000" stroke="#000" stroke-width="0.4">0</text>
<text x="343.2" y="173.4" font-size="11" text-anchor="end" fill="#000" stroke="#000" stroke-width="0.4">0.05</text>
<text x="343.2" y="226.8" font-size="11" text-anchor="end" fill="#000" stroke="#000" stroke-width="0.4">0.1</text>
<text x="473.5" y="256.5" font-size="15" text-anchor="middle" font-weight="bold" fill="#000" stroke="#000" stroke-width="0.3">rotational phase</text>
<text x="315.8" y="116" font-size="15" text-anchor="middle" font-weight="bold" fill="#000" stroke="#000" stroke-width="0.3" transform="rotate(-90 315.8 116)">relative magnitude</text>
<path d="M51.9 524.5v-4M51.9 285v4M51.9 285h4M291.7 285h-4M81.9 524.5v-4M81.9 285v4M51.9 314.9h4M291.7 314.9h-4M111.8 524.5v-4M111.8 285v4M51.9 344.9h4M291.7 344.9h-4M141.8 524.5v-4M141.8 285v4M51.9 374.8h4M291.7 374.8h-4M171.8 524.5v-4M171.8 285v4M51.9 404.8h4M291.7 404.8h-4M201.8 524.5v-4M201.8 285v4M51.9 434.7h4M291.7 434.7h-4M231.8 524.5v-4M231.8 285v4M51.9 464.6h4M291.7 464.6h-4M261.7 524.5v-4M261.7 285v4M51.9 494.6h4M291.7 494.6h-4M291.7 524.5v-4M291.7 285v4M51.9 524.5h4M291.7 524.5h-4" stroke="#333" stroke-width="1" fill="none"/>
<rect x="51.9" y="285" width="239.8" height="239.5" fill="none" stroke="#383838" stroke-width="1.3"/>
<text x="52.9" y="538.6" font-size="10" text-anchor="middle" fill="#000" stroke="#000" stroke-width="0.4">-4</text>
<text x="45.2" y="528.1" font-size="10" text-anchor="end" fill="#000" stroke="#000" stroke-width="0.4">-4</text>
<text x="82.9" y="538.6" font-size="10" text-anchor="middle" fill="#000" stroke="#000" stroke-width="0.4">-3</text>
<text x="45.2" y="498.2" font-size="10" text-anchor="end" fill="#000" stroke="#000" stroke-width="0.4">-3</text>
<text x="112.8" y="538.6" font-size="10" text-anchor="middle" fill="#000" stroke="#000" stroke-width="0.4">-2</text>
<text x="45.2" y="468.2" font-size="10" text-anchor="end" fill="#000" stroke="#000" stroke-width="0.4">-2</text>
<text x="142.8" y="538.6" font-size="10" text-anchor="middle" fill="#000" stroke="#000" stroke-width="0.4">-1</text>
<text x="45.2" y="438.3" font-size="10" text-anchor="end" fill="#000" stroke="#000" stroke-width="0.4">-1</text>
<text x="172.8" y="538.6" font-size="10" text-anchor="middle" fill="#000" stroke="#000" stroke-width="0.4">0</text>
<text x="45.2" y="408.4" font-size="10" text-anchor="end" fill="#000" stroke="#000" stroke-width="0.4">0</text>
<text x="202.8" y="538.6" font-size="10" text-anchor="middle" fill="#000" stroke="#000" stroke-width="0.4">1</text>
<text x="45.2" y="378.4" font-size="10" text-anchor="end" fill="#000" stroke="#000" stroke-width="0.4">1</text>
<text x="232.8" y="538.6" font-size="10" text-anchor="middle" fill="#000" stroke="#000" stroke-width="0.4">2</text>
<text x="45.2" y="348.5" font-size="10" text-anchor="end" fill="#000" stroke="#000" stroke-width="0.4">2</text>
<text x="262.7" y="538.6" font-size="10" text-anchor="middle" fill="#000" stroke="#000" stroke-width="0.4">3</text>
<text x="45.2" y="318.5" font-size="10" text-anchor="end" fill="#000" stroke="#000" stroke-width="0.4">3</text>
<text x="292.7" y="538.6" font-size="10" text-anchor="middle" fill="#000" stroke="#000" stroke-width="0.4">4</text>
<text x="45.2" y="288.6" font-size="10" text-anchor="end" fill="#000" stroke="#000" stroke-width="0.4">4</text>
<text x="171.8" y="554.2" font-size="10" text-anchor="middle" fill="#000" stroke="#000" stroke-width="0.4">X (AU)</text>
<text x="24.6" y="404.8" font-size="10" text-anchor="middle" fill="#000" stroke="#000" stroke-width="0.4" transform="rotate(-90 24.6 404.8)">Y (AU)</text>
<path d="M348.8 523.8v-4M348.8 285.7v4M348.8 285.7h4M586.1 285.7h-4M378.5 523.8v-4M378.5 285.7v4M348.8 315.5h4M586.1 315.5h-4M408.1 523.8v-4M408.1 285.7v4M348.8 345.2h4M586.1 345.2h-4M437.8 523.8v-4M437.8 285.7v4M348.8 375h4M586.1 375h-4M467.5 523.8v-4M467.5 285.7v4M348.8 404.8h4M586.1 404.8h-4M497.1 523.8v-4M497.1 285.7v4M348.8 434.5h4M586.1 434.5h-4M526.8 523.8v-4M526.8 285.7v4M348.8 464.3h4M586.1 464.3h-4M556.4 523.8v-4M556.4 285.7v4M348.8 494h4M586.1 494h-4M586.1 523.8v-4M586.1 285.7v4M348.8 523.8h4M586.1 523.8h-4" stroke="#333" stroke-width="1" fill="none"/>
<rect x="348.8" y="285.7" width="237.3" height="238.1" fill="none" stroke="#383838" stroke-width="1.3"/>
<text x="349.8" y="538.6" font-size="10" text-anchor="middle" fill="#000" stroke="#000" stroke-width="0.4">-4</text>
<text x="342.4" y="527.4" font-size="10" text-anchor="end" fill="#000" stroke="#000" stroke-width="0.4">-4</text>
<text x="379.5" y="538.6" font-size="10" text-anchor="middle" fill="#000" stroke="#000" stroke-width="0.4">-3</text>
<text x="342.4" y="497.6" font-size="10" text-anchor="end" fill="#000" stroke="#000" stroke-width="0.4">-3</text>
<text x="409.1" y="538.6" font-size="10" text-anchor="middle" fill="#000" stroke="#000" stroke-width="0.4">-2</text>
<text x="342.4" y="467.9" font-size="10" text-anchor="end" fill="#000" stroke="#000" stroke-width="0.4">-2</text>
<text x="438.8" y="538.6" font-size="10" text-anchor="middle" fill="#000" stroke="#000" stroke-width="0.4">-1</text>
<text x="342.4" y="438.1" font-size="10" text-anchor="end" fill="#000" stroke="#000" stroke-width="0.4">-1</text>
<text x="468.5" y="538.6" font-size="10" text-anchor="middle" fill="#000" stroke="#000" stroke-width="0.4">0</text>
<text x="342.4" y="408.4" font-size="10" text-anchor="end" fill="#000" stroke="#000" stroke-width="0.4">0</text>
<text x="498.1" y="538.6" font-size="10" text-anchor="middle" fill="#000" stroke="#000" stroke-width="0.4">1</text>
<text x="342.4" y="378.6" font-size="10" text-anchor="end" fill="#000" stroke="#000" stroke-width="0.4">1</text>
<text x="527.8" y="538.6" font-size="10" text-anchor="middle" fill="#000" stroke="#000" stroke-width="0.4">2</text>
<text x="342.4" y="348.8" font-size="10" text-anchor="end" fill="#000" stroke="#000" stroke-width="0.4">2</text>
<text x="557.4" y="538.6" font-size="10" text-anchor="middle" fill="#000" stroke="#000" stroke-width="0.4">3</text>
<text x="342.4" y="319.1" font-size="10" text-anchor="end" fill="#000" stroke="#000" stroke-width="0.4">3</text>
<text x="587.1" y="538.6" font-size="10" text-anchor="middle" fill="#000" stroke="#000" stroke-width="0.4">4</text>
<text x="342.4" y="289.3" font-size="10" text-anchor="end" fill="#000" stroke="#000" stroke-width="0.4">4</text>
<text x="467.5" y="552.8" font-size="10" text-anchor="middle" fill="#000" stroke="#000" stroke-width="0.4">X (AU)</text>
<text x="322.1" y="404.8" font-size="10" text-anchor="middle" fill="#000" stroke="#000" stroke-width="0.4" transform="rotate(-90 322.1 404.8)">Y (AU)</text>
<ellipse cx="177.6" cy="391.2" rx="87.2" ry="84.4" transform="rotate(-67 177.6 391.2)" fill="none" stroke="#dc4c4c" stroke-width="0.85"/>
<circle cx="171.8" cy="404.8" r="29.9" fill="none" stroke="#5062d0" stroke-width="0.95" stroke-dasharray="1.7 2.1"/>
<circle cx="171.8" cy="404.8" r="2.6" fill="none" stroke="#333" stroke-width="0.6"/><circle cx="171.8" cy="404.8" r="0.8" fill="#111"/>
<path d="M151.3 379l4.6 4.6M151.3 383.6l4.6 -4.6" stroke="#3558de" stroke-width="0.9" fill="none"/>
<path d="M151.8 381.3h3.6M153.6 379.5v3.6" stroke="#3558de" stroke-width="0.6" fill="none" opacity="0.7"/>
<path d="M168.9 375.3h3.6M170.7 373.5v3.6M169.5 374l2.5 2.5M169.5 376.5l2.5 -2.5M173.4 373.8h3.6M175.2 372v3.6M173.9 372.6l2.5 2.5M173.9 375.1l2.5 -2.5M170.6 375.3h3.6M172.4 373.5v3.6M171.1 374l2.5 2.5M171.1 376.6l2.5 -2.5M166.7 375.5h3.6M168.5 373.7v3.6M167.3 374.2l2.5 2.5M167.3 376.7l2.5 -2.5M173.4 374.1h3.6M175.2 372.3v3.6M173.9 372.9l2.5 2.5M173.9 375.4l2.5 -2.5M161.8 375h3.6M163.6 373.2v3.6M162.3 373.7l2.5 2.5M162.3 376.3l2.5 -2.5M166.8 375.6h3.6M168.6 373.8v3.6M167.3 374.3l2.5 2.5M167.3 376.8l2.5 -2.5M168.2 376.1h3.6M170 374.3v3.6M168.8 374.9l2.5 2.5M168.8 377.4l2.5 -2.5M160.4 376.3h3.6M162.2 374.5v3.6M160.9 375l2.5 2.5M160.9 377.5l2.5 -2.5M173 375.4h3.6M174.8 373.6v3.6M173.6 374.1l2.5 2.5M173.6 376.7l2.5 -2.5M170.9 375.7h3.6M172.7 373.9v3.6M171.5 374.4l2.5 2.5M171.5 377l2.5 -2.5M162.1 376.9h3.6M163.9 375.1v3.6M162.7 375.6l2.5 2.5M162.7 378.2l2.5 -2.5M168.8 375.4h3.6M170.6 373.6v3.6M169.4 374.1l2.5 2.5M169.4 376.6l2.5 -2.5M172.4 375h3.6M174.2 373.2v3.6M172.9 373.7l2.5 2.5M172.9 376.3l2.5 -2.5M163.1 376.3h3.6M164.9 374.5v3.6M163.7 375l2.5 2.5M163.7 377.5l2.5 -2.5M172.4 376.6h3.6M174.2 374.8v3.6M173 375.4l2.5 2.5M173 377.9l2.5 -2.5" stroke="#3558de" stroke-width="0.7" fill="none"/>
<path d="M108.3 340.3h4.4M110.5 338.1v4.4M109 338.8l3.1 3.1M109 341.8l3.1 -3.1M113.1 335h4M115.1 333v4M113.7 333.6l2.8 2.8M113.7 336.4l2.8 -2.8M115.6 333.9h4M117.6 331.9v4M116.2 332.5l2.8 2.8M116.2 335.3l2.8 -2.8M116.1 332.4h4M118.1 330.4v4M116.7 331l2.8 2.8M116.7 333.8l2.8 -2.8M112.7 335.3h4M114.7 333.3v4M113.3 333.9l2.8 2.8M113.3 336.7l2.8 -2.8M112 336.3h4M114 334.3v4M112.6 334.9l2.8 2.8M112.6 337.7l2.8 -2.8M115.4 333.2h4M117.4 331.2v4M116 331.8l2.8 2.8M116 334.6l2.8 -2.8M112.9 335.7h4M114.9 333.7v4M113.5 334.3l2.8 2.8M113.5 337.1l2.8 -2.8M113.9 334.5h4M115.9 332.5v4M114.5 333.1l2.8 2.8M114.5 335.9l2.8 -2.8M116.4 333h4M118.4 331v4M117 331.6l2.8 2.8M117 334.4l2.8 -2.8M111 335.9h4M113 333.9v4M111.6 334.5l2.8 2.8M111.6 337.3l2.8 -2.8" stroke="#e43434" stroke-width="0.8" fill="none"/>
<path d="M238.4 404H269.6" stroke="#222" stroke-width="1.2"/>
<path d="M267.6 401.4L273.6 404L267.6 406.6z" fill="#222"/>
<text x="279" y="405.4" font-size="7.6" text-anchor="start" fill="#333" stroke="#333" stroke-width="0.15">γ</text>
<text x="234.9" y="416.5" font-size="8.4" text-anchor="start" fill="#222" stroke="#222" stroke-width="0.1">vernal equinox</text>
<ellipse cx="473.4" cy="391.1" rx="86.3" ry="83.6" transform="rotate(-67 473.4 391.1)" fill="none" stroke="#dc4c4c" stroke-width="0.85"/>
<circle cx="467.6" cy="404.6" r="29.6" fill="none" stroke="#5062d0" stroke-width="0.95" stroke-dasharray="1.7 2.1"/>
<circle cx="467.6" cy="404.6" r="2.6" fill="none" stroke="#333" stroke-width="0.6"/><circle cx="467.6" cy="404.6" r="0.8" fill="#111"/>
<path d="M447.5 378.6h4.6M449.8 376.3v4.6M448.2 377l3.2 3.2M448.2 380.2l3.2 -3.2M453.1 377.1h4.6M455.4 374.8v4.6M453.8 375.5l3.2 3.2M453.8 378.7l3.2 -3.2M449.3 378.5h4.6M451.6 376.2v4.6M450 376.9l3.2 3.2M450 380.1l3.2 -3.2M455.6 375.7h4.6M457.9 373.4v4.6M456.3 374.1l3.2 3.2M456.3 377.3l3.2 -3.2M450.3 378.7h4.6M452.6 376.4v4.6M451 377.1l3.2 3.2M451 380.3l3.2 -3.2M455.5 377.1h4.6M457.8 374.8v4.6M456.2 375.5l3.2 3.2M456.2 378.7l3.2 -3.2M455.2 376.1h4.6M457.5 373.8v4.6M455.9 374.5l3.2 3.2M455.9 377.7l3.2 -3.2M457 376.1h4.6M459.3 373.8v4.6M457.7 374.4l3.2 3.2M457.7 377.7l3.2 -3.2M453.6 376.7h4.6M455.9 374.4v4.6M454.3 375.1l3.2 3.2M454.3 378.3l3.2 -3.2M456.1 375.6h4.6M458.4 373.3v4.6M456.8 374l3.2 3.2M456.8 377.2l3.2 -3.2M450.4 378.3h4.6M452.7 376v4.6M451.1 376.7l3.2 3.2M451.1 380l3.2 -3.2M448.2 376.5h4.6M450.5 374.2v4.6M448.9 374.9l3.2 3.2M448.9 378.1l3.2 -3.2M449.9 379.3h4.6M452.2 377v4.6M450.6 377.7l3.2 3.2M450.6 380.9l3.2 -3.2M452.3 377.6h4.6M454.6 375.3v4.6M453 375.9l3.2 3.2M453 379.2l3.2 -3.2" stroke="#3558de" stroke-width="0.7" fill="none"/>
<path d="M405.6 339h4.8M408 336.6v4.8M406.3 337.3l3.4 3.4M406.3 340.7l3.4 -3.4M405 340.5h4M407 338.5v4M405.6 339.1l2.8 2.8M405.6 341.9l2.8 -2.8M407 337.5h4M409 335.5v4M407.6 336.1l2.8 2.8M407.6 338.9l2.8 -2.8" stroke="#e43434" stroke-width="0.8" fill="none"/>
<path d="M533.4 404.2H564" stroke="#222" stroke-width="1.2"/>
<path d="M562 401.6L568 404.2L562 406.8z" fill="#222"/>
<text x="574" y="405.6" font-size="7.6" text-anchor="start" fill="#333" stroke="#333" stroke-width="0.15">γ</text>
<text x="530" y="416.7" font-size="8.4" text-anchor="start" fill="#222" stroke="#222" stroke-width="0.1">vernal equinox</text>
</svg></body></html>
